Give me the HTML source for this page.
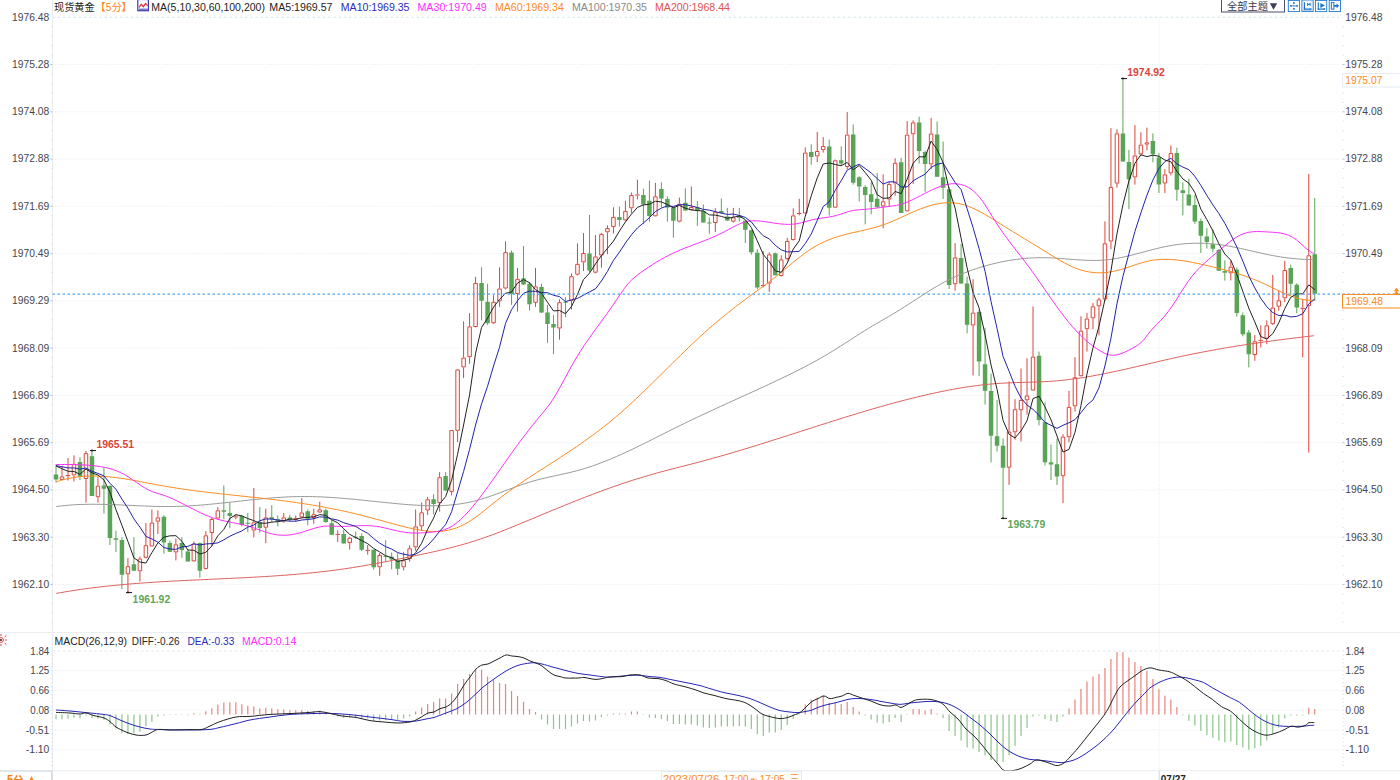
<!DOCTYPE html>
<html><head><meta charset="utf-8"><title>chart</title>
<style>
html,body{margin:0;padding:0;background:#fff;}
body{width:1400px;height:780px;overflow:hidden;font-family:"Liberation Sans",sans-serif;}
svg{display:block;font-family:"Liberation Sans",sans-serif;}
</style></head><body>
<svg width="1400" height="780" viewBox="0 0 1400 780">
<rect width="1400" height="780" fill="#fff"/>
<path d="M52.5 0V780" stroke="#e6ebf1" stroke-width="1" fill="none"/>
<path d="M52.5 17.3H1342.5" stroke="#d8e6ee" stroke-width="1" stroke-dasharray="2.6 2.6" fill="none"/>
<path d="M52.5 64.56H1342.5M52.5 111.82H1342.5M52.5 159.08H1342.5M52.5 206.34H1342.5M52.5 253.6H1342.5M52.5 300.86H1342.5M52.5 348.12H1342.5M52.5 395.38H1342.5M52.5 442.64H1342.5M52.5 489.9H1342.5M52.5 537.16H1342.5M52.5 584.42H1342.5" stroke="#e5eaf0" stroke-width="1" stroke-dasharray="1 1.6" fill="none"/>
<path d="M51.0 26.75h1.5M1342.5 26.75h1.5M51.0 36.2h1.5M1342.5 36.2h1.5M51.0 45.66h1.5M1342.5 45.66h1.5M51.0 55.11h1.5M1342.5 55.11h1.5M51.0 74.01h1.5M1342.5 74.01h1.5M51.0 83.46h1.5M1342.5 83.46h1.5M51.0 92.92h1.5M1342.5 92.92h1.5M51.0 102.37h1.5M1342.5 102.37h1.5M51.0 121.27h1.5M1342.5 121.27h1.5M51.0 130.72h1.5M1342.5 130.72h1.5M51.0 140.18h1.5M1342.5 140.18h1.5M51.0 149.63h1.5M1342.5 149.63h1.5M51.0 168.53h1.5M1342.5 168.53h1.5M51.0 177.98h1.5M1342.5 177.98h1.5M51.0 187.44h1.5M1342.5 187.44h1.5M51.0 196.89h1.5M1342.5 196.89h1.5M51.0 215.79h1.5M1342.5 215.79h1.5M51.0 225.24h1.5M1342.5 225.24h1.5M51.0 234.7h1.5M1342.5 234.7h1.5M51.0 244.15h1.5M1342.5 244.15h1.5M51.0 263.05h1.5M1342.5 263.05h1.5M51.0 272.5h1.5M1342.5 272.5h1.5M51.0 281.96h1.5M1342.5 281.96h1.5M51.0 291.41h1.5M1342.5 291.41h1.5M51.0 310.31h1.5M1342.5 310.31h1.5M51.0 319.76h1.5M1342.5 319.76h1.5M51.0 329.22h1.5M1342.5 329.22h1.5M51.0 338.67h1.5M1342.5 338.67h1.5M51.0 357.57h1.5M1342.5 357.57h1.5M51.0 367.02h1.5M1342.5 367.02h1.5M51.0 376.48h1.5M1342.5 376.48h1.5M51.0 385.93h1.5M1342.5 385.93h1.5M51.0 404.83h1.5M1342.5 404.83h1.5M51.0 414.28h1.5M1342.5 414.28h1.5M51.0 423.74h1.5M1342.5 423.74h1.5M51.0 433.19h1.5M1342.5 433.19h1.5M51.0 452.09h1.5M1342.5 452.09h1.5M51.0 461.54h1.5M1342.5 461.54h1.5M51.0 471h1.5M1342.5 471h1.5M51.0 480.45h1.5M1342.5 480.45h1.5M51.0 499.35h1.5M1342.5 499.35h1.5M51.0 508.8h1.5M1342.5 508.8h1.5M51.0 518.26h1.5M1342.5 518.26h1.5M51.0 527.71h1.5M1342.5 527.71h1.5M51.0 546.61h1.5M1342.5 546.61h1.5M51.0 556.06h1.5M1342.5 556.06h1.5M51.0 565.52h1.5M1342.5 565.52h1.5M51.0 574.97h1.5M1342.5 574.97h1.5M51.0 593.87h1.5M1342.5 593.87h1.5M51.0 603.32h1.5M1342.5 603.32h1.5M51.0 612.78h1.5M1342.5 612.78h1.5M51.0 622.23h1.5M1342.5 622.23h1.5" stroke="#dde3e9" stroke-width="1" fill="none"/>
<path d="M50.5 64.56h2M1342.5 64.56h2M50.5 111.82h2M1342.5 111.82h2M50.5 159.08h2M1342.5 159.08h2M50.5 206.34h2M1342.5 206.34h2M50.5 253.6h2M1342.5 253.6h2M50.5 300.86h2M1342.5 300.86h2M50.5 348.12h2M1342.5 348.12h2M50.5 395.38h2M1342.5 395.38h2M50.5 442.64h2M1342.5 442.64h2M50.5 489.9h2M1342.5 489.9h2M50.5 537.16h2M1342.5 537.16h2M50.5 584.42h2M1342.5 584.42h2" stroke="#b4bcc4" stroke-width="1" fill="none"/>
<text x="49.3" y="20.7" font-size="10.2" fill="#454550" text-anchor="end" textLength="37.2" lengthAdjust="spacingAndGlyphs">1976.48</text>
<text x="1345.2" y="20.7" font-size="10.2" fill="#454550" textLength="37.2" lengthAdjust="spacingAndGlyphs">1976.48</text>
<text x="49.3" y="67.96" font-size="10.2" fill="#454550" text-anchor="end" textLength="37.2" lengthAdjust="spacingAndGlyphs">1975.28</text>
<text x="1345.2" y="67.96" font-size="10.2" fill="#454550" textLength="37.2" lengthAdjust="spacingAndGlyphs">1975.28</text>
<text x="49.3" y="115.22" font-size="10.2" fill="#454550" text-anchor="end" textLength="37.2" lengthAdjust="spacingAndGlyphs">1974.08</text>
<text x="1345.2" y="115.22" font-size="10.2" fill="#454550" textLength="37.2" lengthAdjust="spacingAndGlyphs">1974.08</text>
<text x="49.3" y="162.48" font-size="10.2" fill="#454550" text-anchor="end" textLength="37.2" lengthAdjust="spacingAndGlyphs">1972.88</text>
<text x="1345.2" y="162.48" font-size="10.2" fill="#454550" textLength="37.2" lengthAdjust="spacingAndGlyphs">1972.88</text>
<text x="49.3" y="209.74" font-size="10.2" fill="#454550" text-anchor="end" textLength="37.2" lengthAdjust="spacingAndGlyphs">1971.69</text>
<text x="1345.2" y="209.74" font-size="10.2" fill="#454550" textLength="37.2" lengthAdjust="spacingAndGlyphs">1971.69</text>
<text x="49.3" y="257" font-size="10.2" fill="#454550" text-anchor="end" textLength="37.2" lengthAdjust="spacingAndGlyphs">1970.49</text>
<text x="1345.2" y="257" font-size="10.2" fill="#454550" textLength="37.2" lengthAdjust="spacingAndGlyphs">1970.49</text>
<text x="49.3" y="304.26" font-size="10.2" fill="#454550" text-anchor="end" textLength="37.2" lengthAdjust="spacingAndGlyphs">1969.29</text>
<text x="1345.2" y="304.26" font-size="10.2" fill="#454550" textLength="37.2" lengthAdjust="spacingAndGlyphs">1969.29</text>
<text x="49.3" y="351.52" font-size="10.2" fill="#454550" text-anchor="end" textLength="37.2" lengthAdjust="spacingAndGlyphs">1968.09</text>
<text x="1345.2" y="351.52" font-size="10.2" fill="#454550" textLength="37.2" lengthAdjust="spacingAndGlyphs">1968.09</text>
<text x="49.3" y="398.78" font-size="10.2" fill="#454550" text-anchor="end" textLength="37.2" lengthAdjust="spacingAndGlyphs">1966.89</text>
<text x="1345.2" y="398.78" font-size="10.2" fill="#454550" textLength="37.2" lengthAdjust="spacingAndGlyphs">1966.89</text>
<text x="49.3" y="446.04" font-size="10.2" fill="#454550" text-anchor="end" textLength="37.2" lengthAdjust="spacingAndGlyphs">1965.69</text>
<text x="1345.2" y="446.04" font-size="10.2" fill="#454550" textLength="37.2" lengthAdjust="spacingAndGlyphs">1965.69</text>
<text x="49.3" y="493.3" font-size="10.2" fill="#454550" text-anchor="end" textLength="37.2" lengthAdjust="spacingAndGlyphs">1964.50</text>
<text x="1345.2" y="493.3" font-size="10.2" fill="#454550" textLength="37.2" lengthAdjust="spacingAndGlyphs">1964.50</text>
<text x="49.3" y="540.56" font-size="10.2" fill="#454550" text-anchor="end" textLength="37.2" lengthAdjust="spacingAndGlyphs">1963.30</text>
<text x="1345.2" y="540.56" font-size="10.2" fill="#454550" textLength="37.2" lengthAdjust="spacingAndGlyphs">1963.30</text>
<text x="49.3" y="587.82" font-size="10.2" fill="#454550" text-anchor="end" textLength="37.2" lengthAdjust="spacingAndGlyphs">1962.10</text>
<text x="1345.2" y="587.82" font-size="10.2" fill="#454550" textLength="37.2" lengthAdjust="spacingAndGlyphs">1962.10</text>
<path d="M0 632.5H1400M0 770.7H1400" stroke="#e9eef3" stroke-width="1" fill="none"/>
<path d="M52.5 670.6H1342.5M52.5 690.4H1342.5M52.5 710.1H1342.5M52.5 730H1342.5M52.5 749.7H1342.5" stroke="#e5eaf0" stroke-width="1" stroke-dasharray="1 1.6" fill="none"/>
<path d="M52.5 651H1342.5" stroke="#dce8ef" stroke-width="1" stroke-dasharray="2.6 2.6" fill="none"/>
<text x="49.3" y="654.7" font-size="10.2" fill="#454550" text-anchor="end" textLength="19" lengthAdjust="spacingAndGlyphs">1.84</text>
<text x="1345.5" y="654.7" font-size="10.2" fill="#454550" textLength="19" lengthAdjust="spacingAndGlyphs">1.84</text>
<text x="49.3" y="674.3" font-size="10.2" fill="#454550" text-anchor="end" textLength="19" lengthAdjust="spacingAndGlyphs">1.25</text>
<text x="1345.5" y="674.3" font-size="10.2" fill="#454550" textLength="19" lengthAdjust="spacingAndGlyphs">1.25</text>
<text x="49.3" y="694.1" font-size="10.2" fill="#454550" text-anchor="end" textLength="19" lengthAdjust="spacingAndGlyphs">0.66</text>
<text x="1345.5" y="694.1" font-size="10.2" fill="#454550" textLength="19" lengthAdjust="spacingAndGlyphs">0.66</text>
<text x="49.3" y="713.8" font-size="10.2" fill="#454550" text-anchor="end" textLength="19" lengthAdjust="spacingAndGlyphs">0.08</text>
<text x="1345.5" y="713.8" font-size="10.2" fill="#454550" textLength="19" lengthAdjust="spacingAndGlyphs">0.08</text>
<text x="49.3" y="733.7" font-size="10.2" fill="#454550" text-anchor="end" textLength="23.6" lengthAdjust="spacingAndGlyphs">-0.51</text>
<text x="1345.5" y="733.7" font-size="10.2" fill="#454550" textLength="23.6" lengthAdjust="spacingAndGlyphs">-0.51</text>
<text x="49.3" y="753.4" font-size="10.2" fill="#454550" text-anchor="end" textLength="23.6" lengthAdjust="spacingAndGlyphs">-1.10</text>
<text x="1345.5" y="753.4" font-size="10.2" fill="#454550" textLength="23.6" lengthAdjust="spacingAndGlyphs">-1.10</text>
<path d="M51.0 651h1.5M1342.5 651h1.5M51.0 654.95h1.5M1342.5 654.95h1.5M51.0 658.9h1.5M1342.5 658.9h1.5M51.0 662.84h1.5M1342.5 662.84h1.5M51.0 666.79h1.5M1342.5 666.79h1.5M51.0 670.74h1.5M1342.5 670.74h1.5M51.0 674.69h1.5M1342.5 674.69h1.5M51.0 678.64h1.5M1342.5 678.64h1.5M51.0 682.58h1.5M1342.5 682.58h1.5M51.0 686.53h1.5M1342.5 686.53h1.5M51.0 690.48h1.5M1342.5 690.48h1.5M51.0 694.43h1.5M1342.5 694.43h1.5M51.0 698.38h1.5M1342.5 698.38h1.5M51.0 702.32h1.5M1342.5 702.32h1.5M51.0 706.27h1.5M1342.5 706.27h1.5M51.0 710.22h1.5M1342.5 710.22h1.5M51.0 714.17h1.5M1342.5 714.17h1.5M51.0 718.12h1.5M1342.5 718.12h1.5M51.0 722.06h1.5M1342.5 722.06h1.5M51.0 726.01h1.5M1342.5 726.01h1.5M51.0 729.96h1.5M1342.5 729.96h1.5M51.0 733.91h1.5M1342.5 733.91h1.5M51.0 737.86h1.5M1342.5 737.86h1.5M51.0 741.8h1.5M1342.5 741.8h1.5M51.0 745.75h1.5M1342.5 745.75h1.5M51.0 749.7h1.5M1342.5 749.7h1.5M51.0 753.65h1.5M1342.5 753.65h1.5M51.0 757.6h1.5M1342.5 757.6h1.5M51.0 761.54h1.5M1342.5 761.54h1.5M51.0 765.49h1.5M1342.5 765.49h1.5" stroke="#dde3e9" stroke-width="1" fill="none"/>
<path d="M1159.2 17.3V771" stroke="#e5eaf0" stroke-width="1" stroke-dasharray="1 1.6" fill="none"/>
<path d="M1159.2 771V780" stroke="#cfd6dd" stroke-width="1" fill="none"/>
<path d="M61.99 466V476.4M67.99 458V475.1M67.99 476.1V480.5M65.74 475.6h4.5M73.98 455.4V463.8M73.98 475.4V481.5M85.97 451V453.1M85.97 479V502.6M97.96 477V485.6M97.96 497.2V502.6M127.93 558.1V566.2M127.93 574.3V592.8M139.92 556.5V558.5M139.92 571.3V581.6M145.91 523.1V545.2M145.91 557.8V558.5M151.9 509.6V522.5M157.9 510.3V517.4M157.9 521.6V534M175.88 538.6V544.3M175.88 552.4V560.4M193.86 541.4V543.7M193.86 561.4V561.7M205.85 531.1V535.3M205.85 569.1V569.4M211.84 518V519M211.84 533V546M217.84 507.1V510.3M217.84 518.5V519.3M235.82 514.8V516.4M235.82 517.4V519.3M233.57 516.9h4.5M253.8 487.9V522.3M253.8 530.5V537.3M265.79 508.7V517.4M265.79 527.7V543.1M283.77 512.9V517.4M283.77 521.5V522.8M295.76 515.5V518.4M295.76 520V521.3M301.75 498.1V512.5M301.75 517.4V518.1M313.74 508.7V514.2M313.74 518.1V523.8M319.74 501.7V509.4M319.74 512.5V512.9M337.72 530.3V533.9M337.72 534.9V541.8M335.47 534.4h4.5M349.71 536.7V537.7M349.71 543.1V549.6M367.69 545V549.9M367.69 550.9V554.7M365.44 550.4h4.5M379.68 553V555M379.68 567.3V575.8M403.65 551.8V560.3M403.65 567.3V570.4M409.65 545.5V548.3M409.65 559.1V561.7M415.64 509.5V526.4M415.64 547.3V550.7M421.63 502.4V512.3M421.63 526.4V530.9M427.63 496.8V499.3M427.63 510.5V514.9M439.62 472.1V477.2M439.62 503.1V511.6M451.6 430V430.1M451.6 491.9V495.4M457.6 369V369.5M457.6 430.8V442M463.59 321.3V357.6M463.59 367.4V378.1M469.59 313.1V326.4M469.59 357.2V363.7M475.58 276.8V282.9M475.58 327V327.4M493.56 295.2V301.8M493.56 323.3V324M499.56 267.3V288.5M499.56 301.4V306.9M505.55 241.3V252.2M505.55 288.5V289.5M517.54 267.9V278.8M517.54 294V311.6M535.52 267.9V286.4M535.52 302.8V306.9M559.5 299.3V302.2M559.5 328.5V339.7M571.48 273.5V276.2M571.48 300.8V309.6M577.48 243.3V263.8M577.48 274.7V275.5M583.47 233.1V253M583.47 262.4V271M595.46 234.9V256.4M595.46 272.7V273.5M601.45 233V233.9M601.45 255.5V267.7M607.45 225.3V228.1M607.45 232.3V254.2M613.44 207.3V216.9M613.44 227.2V233.6M625.43 200.8V210.9M625.43 220.4V220.8M631.42 192.5V195.1M631.42 208.3V213.1M637.42 179.6V194.4M637.42 195.6V199.3M635.17 195h4.5M655.4 182.9V196.3M655.4 216.3V216.5M679.38 197.6V203.7M679.38 221.7V222.4M691.36 186.5V207M691.36 210.1V210.5M715.34 208.3V211.8M715.34 223V232M733.32 207.9V217.3M733.32 221.7V222.7M763.29 251.2V285M763.29 286V287.4M761.04 285.5h4.5M769.29 252.4V254.4M769.29 283.5V291.9M781.27 255.3V259.4M781.27 276.1V276.5M787.27 237.9V240.9M787.27 259.1V260.4M793.26 208.4V215.4M793.26 240.1V240.5M799.26 198.8V213M799.26 214V215.4M797.01 213.5h4.5M805.25 147.4V152.6M817.24 132V151M817.24 156.4V162.2M823.23 137.1V146.1M823.23 150.2V152.6M835.22 159.6V160.3M847.21 112.1V134.6M847.21 167V169.3M883.17 174.4V201.3M883.17 206.4V228.3M889.17 182V184M889.17 199.5V207M895.16 158.3V162.8M895.16 183.4V195.6M907.15 121.1V134.6M907.15 211.3V211.5M913.14 120.4V122.4M913.14 134.3V184M931.12 117.9V133.5M931.12 164.4V169.3M955.1 243.2V257.4M955.1 284.2V290.7M973.08 279.2V312.6M973.08 325.5V375.4M1009.05 381.5V431.5M1009.05 467.7V484.9M1015.04 399.2V409.2M1015.04 432.3V439.7M1021.03 368.5V400M1021.03 410.3V441.5M1027.03 358.2V395.4M1027.03 400.3V414.6M1033.02 306.5V356.6M1033.02 390.5V391M1062.99 434.2V436.6M1062.99 476.2V503.1M1068.99 390.8V406.9M1068.99 437.2V442.3M1074.98 357.2V377.2M1074.98 406.3V411.5M1080.97 316.2V330.6M1080.97 376.2V376.5M1086.97 313.1V318.5M1086.97 329.2V351.5M1092.96 303.1V306.3M1092.96 318.3V329.3M1098.96 297.6V299.4M1098.96 306.3V335.4M1104.95 221.3V243.3M1104.95 299.4V301M1110.94 128.2V186.9M1110.94 241.5V249.2M1116.94 129.2V133.4M1116.94 183.6V187.7M1134.92 125.1V155.4M1134.92 177.4V184.6M1140.91 132.3V144.6M1140.91 154.3V155.4M1146.91 127.7V142.3M1146.91 144.6V150.3M1164.89 169.2V174.4M1164.89 183.5V193.1M1170.88 145.4V153.1M1170.88 173.4V175.4M1230.82 260.8V266.7M1230.82 273.3V280.4M1254.8 335V341.3M1254.8 355V360.8M1260.79 325.3V339.85M1260.79 340.85V347.5M1258.54 340.35h4.5M1266.79 320.3V325.3M1266.79 338.7V344.2M1272.78 275V307.5M1272.78 324.2V325M1278.78 290.8V300.3M1278.78 306.7V310.8M1284.77 260.8V270M1284.77 298.3V302M1302.75 299.2V307.85M1302.75 308.85V357.4M1300.5 308.35h4.5M1308.75 174V255.3M1308.75 306.3V452.6" stroke="#d8463c" stroke-width="1" fill="none"/>
<path d="M60.24 476.9h3.5v2.6h-3.5zM72.23 464.3h3.5v10.6h-3.5zM84.22 453.6h3.5v24.9h-3.5zM96.21 486.1h3.5v10.6h-3.5zM126.18 566.7h3.5v7.1h-3.5zM138.17 559h3.5v11.8h-3.5zM144.16 545.7h3.5v11.6h-3.5zM150.15 523h3.5v23h-3.5zM156.15 517.9h3.5v3.2h-3.5zM174.13 544.8h3.5v7.1h-3.5zM192.11 544.2h3.5v16.7h-3.5zM204.1 535.8h3.5v32.8h-3.5zM210.09 519.5h3.5v13h-3.5zM216.09 510.8h3.5v7.2h-3.5zM252.05 522.8h3.5v7.2h-3.5zM264.04 517.9h3.5v9.3h-3.5zM282.02 517.9h3.5v3.1h-3.5zM294.01 518.9h3.5v0.6h-3.5zM300 513h3.5v3.9h-3.5zM311.99 514.7h3.5v2.9h-3.5zM317.99 509.9h3.5v2.1h-3.5zM347.96 538.2h3.5v4.4h-3.5zM377.93 555.5h3.5v11.3h-3.5zM401.9 560.8h3.5v6h-3.5zM407.9 548.8h3.5v9.8h-3.5zM413.89 526.9h3.5v19.9h-3.5zM419.88 512.8h3.5v13.1h-3.5zM425.88 499.8h3.5v10.2h-3.5zM437.87 477.7h3.5v24.9h-3.5zM449.85 430.6h3.5v60.8h-3.5zM455.85 370h3.5v60.3h-3.5zM461.84 358.1h3.5v8.8h-3.5zM467.84 326.9h3.5v29.8h-3.5zM473.83 283.4h3.5v43.1h-3.5zM491.81 302.3h3.5v20.5h-3.5zM497.81 289h3.5v11.9h-3.5zM503.8 252.7h3.5v35.3h-3.5zM515.79 279.3h3.5v14.2h-3.5zM533.77 286.9h3.5v15.4h-3.5zM557.75 302.7h3.5v25.3h-3.5zM569.73 276.7h3.5v23.6h-3.5zM575.73 264.3h3.5v9.9h-3.5zM581.72 253.5h3.5v8.4h-3.5zM593.71 256.9h3.5v15.3h-3.5zM599.7 234.4h3.5v20.6h-3.5zM605.7 228.6h3.5v3.2h-3.5zM611.69 217.4h3.5v9.3h-3.5zM623.68 211.4h3.5v8.5h-3.5zM629.67 195.6h3.5v12.2h-3.5zM653.65 196.8h3.5v19h-3.5zM677.63 204.2h3.5v17h-3.5zM689.61 207.5h3.5v2.1h-3.5zM713.59 212.3h3.5v10.2h-3.5zM731.57 217.8h3.5v3.4h-3.5zM767.54 254.9h3.5v28.1h-3.5zM779.52 259.9h3.5v15.7h-3.5zM785.52 241.4h3.5v17.2h-3.5zM791.51 215.9h3.5v23.7h-3.5zM803.5 153.1h3.5v59.9h-3.5zM815.49 151.5h3.5v4.4h-3.5zM821.48 146.6h3.5v3.1h-3.5zM833.47 160.8h3.5v46.4h-3.5zM845.46 135.1h3.5v31.4h-3.5zM881.42 201.8h3.5v4.1h-3.5zM887.42 184.5h3.5v14.5h-3.5zM893.41 163.3h3.5v19.6h-3.5zM905.4 135.1h3.5v75.7h-3.5zM911.39 122.9h3.5v10.9h-3.5zM929.37 134h3.5v29.9h-3.5zM953.35 257.9h3.5v25.8h-3.5zM971.33 313.1h3.5v11.9h-3.5zM1007.3 432h3.5v35.2h-3.5zM1013.29 409.7h3.5v22.1h-3.5zM1019.28 400.5h3.5v9.3h-3.5zM1025.28 395.9h3.5v3.9h-3.5zM1031.27 357.1h3.5v32.9h-3.5zM1061.24 437.1h3.5v38.6h-3.5zM1067.24 407.4h3.5v29.3h-3.5zM1073.23 377.7h3.5v28.1h-3.5zM1079.22 331.1h3.5v44.6h-3.5zM1085.22 319h3.5v9.7h-3.5zM1091.21 306.8h3.5v11h-3.5zM1097.21 299.9h3.5v5.9h-3.5zM1103.2 243.8h3.5v55.1h-3.5zM1109.19 187.4h3.5v53.6h-3.5zM1115.19 133.9h3.5v49.2h-3.5zM1133.17 155.9h3.5v21h-3.5zM1139.16 145.1h3.5v8.7h-3.5zM1145.16 142.8h3.5v1.3h-3.5zM1163.14 174.9h3.5v8.1h-3.5zM1169.13 153.6h3.5v19.3h-3.5zM1229.07 267.2h3.5v5.6h-3.5zM1253.05 341.8h3.5v12.7h-3.5zM1265.04 325.8h3.5v12.4h-3.5zM1271.03 308h3.5v15.7h-3.5zM1277.03 300.8h3.5v5.4h-3.5zM1283.02 270.5h3.5v27.3h-3.5zM1307 255.8h3.5v50h-3.5z" stroke="#d8463c" stroke-width="1" fill="#fff"/>
<path d="M56 464.6V482.6M79.98 457.2V480M91.96 450.3V496M103.95 467.5V513.6M109.95 485V545M115.94 530.8V552M121.93 537.3V589.3M133.92 537.3V570.7M163.89 515.2V553.7M169.89 540.5V552M181.87 537.3V557.8M187.87 550V561.7M199.86 542.4V577.8M223.83 485.5V519.3M229.83 502.6V528.3M241.81 514.8V526.4M247.81 512.9V532.2M259.8 507.1V532.8M271.78 505.2V521.9M277.78 515.5V526.4M289.77 514.8V521.9M307.75 509.4V525.4M325.73 508.7V522.8M331.72 520V534.8M343.71 529.6V543.4M355.7 531.6V539M361.69 533.5V551M373.68 549.6V569.6M385.67 540.2V561.2M391.66 552.5V569.4M397.66 553.2V575M433.62 494.3V514.4M445.61 472.1V491.2M481.57 267.3V320.3M487.57 283.7V324.8M511.54 250.5V304.9M523.53 246V285M529.53 282V310.4M541.51 283.7V313M547.51 304.9V342.8M553.5 315.1V354.1M565.49 297.3V317.2M589.47 215V272M619.44 206.6V226.6M643.41 188.6V224M649.41 180.5V221.7M661.39 182.2V207.3M667.39 196.3V221.7M673.38 206.6V237.7M685.37 188.3V210.9M697.36 201.1V225.9M703.35 204.4V222.7M709.35 217.6V233.6M721.33 198.5V213.7M727.33 207.9V220.8M739.32 207.9V221.7M745.31 220.1V243M751.3 229.8V254.7M757.3 249.3V289.3M775.28 252.5V275.4M811.24 144.2V164.8M829.23 139.7V215.4M841.21 146.4V166.1M853.2 124.3V184.7M859.2 176.3V201.4M865.19 185.3V224.4M871.18 182.1V214.4M877.18 173.1V208.4M901.15 157.7V213M919.14 116.6V163.5M925.13 150.6V191.8M937.12 121.5V177M943.11 141.6V199M949.11 187V289M961.09 244V284M967.09 276.7V333.3M979.08 310V376.2M985.07 327.7V404.6M991.06 373.8V462.3M997.06 400V451.5M1003.05 438.5V518.5M1039.02 351.5V425.4M1045.01 402.3V465.4M1051 444.6V480M1057 438.5V484.9M1122.93 78.5V161.8M1128.93 150V209.2M1152.9 133.4V162.3M1158.9 153.1V193.1M1176.88 147.7V200.8M1182.87 182.3V215.4M1188.87 178.5V205.7M1194.86 195V223.8M1200.85 218.5V253.1M1206.85 228.2V248.5M1212.84 229.2V252.3M1218.84 249V271M1224.83 260.3V280.6M1236.82 267.5V316.7M1242.81 312.5V336.3M1248.81 330V367.5M1290.76 264.7V295M1296.76 283.3V313.3M1314.74 198V300.8" stroke="#5aa457" stroke-width="1" fill="none"/>
<path d="M53.75 474.4h4.5v5.1h-4.5zM77.73 462h4.5v14.4h-4.5zM89.71 456.2h4.5v39.8h-4.5zM101.7 485.6h4.5v3.1h-4.5zM107.7 486h4.5v51.9h-4.5zM113.69 538.2h4.5v1.6h-4.5zM119.68 540.1h4.5v34.7h-4.5zM131.67 564.3h4.5v6.4h-4.5zM161.64 516.7h4.5v25.7h-4.5zM167.64 543h4.5v8.7h-4.5zM179.62 543h4.5v7.1h-4.5zM185.62 551.4h4.5v10h-4.5zM197.61 543h4.5v27.7h-4.5zM221.58 510.3h4.5v1.4h-4.5zM227.58 512.9h4.5v3h-4.5zM239.56 515.9h4.5v9.2h-4.5zM245.56 522.8h4.5v1h-4.5zM257.55 522.3h4.5v5.7h-4.5zM269.53 517.2h4.5v2.1h-4.5zM275.53 519.3h4.5v2.2h-4.5zM287.52 517.4h4.5v2.3h-4.5zM305.5 511.2h4.5v7.5h-4.5zM323.48 510.3h4.5v11.6h-4.5zM329.47 523.2h4.5v11.6h-4.5zM341.46 534.1h4.5v9.3h-4.5zM353.45 536.8h4.5v1h-4.5zM359.44 536.1h4.5v13.7h-4.5zM371.43 549.8h4.5v17.5h-4.5zM383.42 555.8h4.5v1h-4.5zM389.41 556.7h4.5v2.9h-4.5zM395.41 560.3h4.5v8.4h-4.5zM431.37 499.3h4.5v4.6h-4.5zM443.36 475.9h4.5v14.6h-4.5zM479.32 282.9h4.5v17.9h-4.5zM485.32 301.8h4.5v21.5h-4.5zM509.29 252.6h4.5v41.4h-4.5zM521.28 278.2h4.5v6.2h-4.5zM527.28 283.7h4.5v20.6h-4.5zM539.26 287h4.5v25.5h-4.5zM545.26 312.5h4.5v11.4h-4.5zM551.25 323.9h4.5v3.5h-4.5zM563.24 301.8h4.5v1h-4.5zM587.22 253.6h4.5v17h-4.5zM617.19 216.9h4.5v3h-4.5zM641.16 195.1h4.5v9.3h-4.5zM647.16 200.8h4.5v15.2h-4.5zM659.14 189h4.5v9.5h-4.5zM665.14 198.9h4.5v8.6h-4.5zM671.13 207.5h4.5v13.3h-4.5zM683.12 202.8h4.5v7.7h-4.5zM695.11 207.3h4.5v3.8h-4.5zM701.1 211.1h4.5v11.3h-4.5zM707.1 222.6h4.5v1h-4.5zM719.08 210.9h4.5v2.2h-4.5zM725.08 216.5h4.5v3.9h-4.5zM737.07 215.6h4.5v2.2h-4.5zM743.06 220.8h4.5v9h-4.5zM749.05 230.2h4.5v22h-4.5zM755.05 252.8h4.5v34.6h-4.5zM773.03 253.3h4.5v21.9h-4.5zM808.99 151.9h4.5v5.2h-4.5zM826.98 146.4h4.5v61.3h-4.5zM838.96 160.3h4.5v3.2h-4.5zM850.95 134.6h4.5v48.2h-4.5zM856.95 177.2h4.5v9.4h-4.5zM862.94 187h4.5v8h-4.5zM868.93 194.3h4.5v7.7h-4.5zM874.93 198.8h4.5v8.3h-4.5zM898.9 162.2h4.5v50.7h-4.5zM916.89 122.4h4.5v28.6h-4.5zM922.88 151.9h4.5v12h-4.5zM934.87 134.6h4.5v42.1h-4.5zM940.86 177.2h4.5v10.6h-4.5zM946.86 189.2h4.5v95.8h-4.5zM958.84 258h4.5v25.5h-4.5zM964.84 283.5h4.5v41.3h-4.5zM976.83 312h4.5v49.5h-4.5zM982.82 364.3h4.5v26.5h-4.5zM988.81 391h4.5v44.7h-4.5zM994.81 436.2h4.5v9.6h-4.5zM1000.8 445.8h4.5v21.9h-4.5zM1036.77 355.7h4.5v64.3h-4.5zM1042.76 422.3h4.5v40h-4.5zM1048.75 462.3h4.5v2.3h-4.5zM1054.75 464.3h4.5v12.3h-4.5zM1120.68 133.4h4.5v28.1h-4.5zM1126.68 162h4.5v17.3h-4.5zM1150.65 141.1h4.5v13.2h-4.5zM1156.65 157.4h4.5v27.2h-4.5zM1174.63 153.1h4.5v36.6h-4.5zM1180.62 190.3h4.5v2.8h-4.5zM1186.62 194.6h4.5v10.8h-4.5zM1192.61 205.1h4.5v16.4h-4.5zM1198.6 221.1h4.5v14.7h-4.5zM1204.6 236.5h4.5v5.5h-4.5zM1210.59 244.2h4.5v4.6h-4.5zM1216.59 250h4.5v20.8h-4.5zM1222.58 271h4.5v1.7h-4.5zM1234.57 269.8h4.5v43.2h-4.5zM1240.56 315.3h4.5v18.9h-4.5zM1246.56 332.5h4.5v21.7h-4.5zM1288.51 268h4.5v15.7h-4.5zM1294.51 284.7h4.5v22.8h-4.5zM1312.49 254.2h4.5v39.5h-4.5z" fill="#5aa457"/>
<path d="M56.25 593.42C56.92 593.3 58.92 592.94 60.25 592.7C61.58 592.47 62.92 592.24 64.25 592.01C65.58 591.79 66.92 591.57 68.25 591.35C69.58 591.13 70.92 590.92 72.25 590.71C73.58 590.5 74.92 590.3 76.25 590.1C77.58 589.9 78.92 589.7 80.25 589.51C81.58 589.32 82.92 589.13 84.25 588.95C85.58 588.76 86.92 588.58 88.25 588.41C89.58 588.23 90.92 588.06 92.25 587.89C93.58 587.72 94.92 587.55 96.25 587.39C97.58 587.23 98.92 587.07 100.25 586.92C101.58 586.76 102.92 586.61 104.25 586.46C105.58 586.32 106.92 586.17 108.25 586.03C109.58 585.89 110.92 585.75 112.25 585.61C113.58 585.48 114.92 585.35 116.25 585.22C117.58 585.09 118.92 584.96 120.25 584.84C121.58 584.71 122.92 584.59 124.25 584.47C125.58 584.35 126.92 584.24 128.25 584.13C129.58 584.01 130.92 583.9 132.25 583.79C133.58 583.69 134.92 583.58 136.25 583.48C137.58 583.37 138.92 583.27 140.25 583.17C141.58 583.07 142.92 582.98 144.25 582.88C145.58 582.79 146.92 582.69 148.25 582.6C149.58 582.51 150.92 582.42 152.25 582.34C153.58 582.25 154.92 582.16 156.25 582.08C157.58 582 158.92 581.92 160.25 581.84C161.58 581.76 162.92 581.68 164.25 581.6C165.58 581.52 166.92 581.45 168.25 581.37C169.58 581.3 170.92 581.22 172.25 581.15C173.58 581.08 174.92 581.01 176.25 580.94C177.58 580.87 178.92 580.8 180.25 580.73C181.58 580.67 182.92 580.6 184.25 580.53C185.58 580.47 186.92 580.4 188.25 580.34C189.58 580.27 190.92 580.21 192.25 580.15C193.58 580.08 194.92 580.02 196.25 579.96C197.58 579.9 198.92 579.84 200.25 579.77C201.58 579.71 202.92 579.65 204.25 579.59C205.58 579.53 206.92 579.47 208.25 579.41C209.58 579.35 210.92 579.29 212.25 579.23C213.58 579.17 214.92 579.11 216.25 579.05C217.58 578.99 218.92 578.93 220.25 578.87C221.58 578.81 222.92 578.74 224.25 578.68C225.58 578.62 226.92 578.56 228.25 578.5C229.58 578.43 230.92 578.37 232.25 578.31C233.58 578.24 234.92 578.18 236.25 578.12C237.58 578.05 238.92 577.99 240.25 577.92C241.58 577.85 242.92 577.78 244.25 577.72C245.58 577.65 246.92 577.58 248.25 577.51C249.58 577.44 250.92 577.37 252.25 577.29C253.58 577.22 254.92 577.15 256.25 577.07C257.58 576.99 258.92 576.92 260.25 576.84C261.58 576.76 262.92 576.68 264.25 576.6C265.58 576.52 266.92 576.44 268.25 576.35C269.58 576.27 270.92 576.18 272.25 576.09C273.58 576 274.92 575.91 276.25 575.82C277.58 575.73 278.92 575.63 280.25 575.54C281.58 575.44 282.92 575.34 284.25 575.24C285.58 575.14 286.92 575.04 288.25 574.94C289.58 574.83 290.92 574.72 292.25 574.61C293.58 574.5 294.92 574.39 296.25 574.28C297.58 574.16 298.92 574.05 300.25 573.93C301.58 573.81 302.92 573.68 304.25 573.56C305.58 573.43 306.92 573.31 308.25 573.18C309.58 573.04 310.92 572.91 312.25 572.77C313.58 572.64 314.92 572.5 316.25 572.35C317.58 572.21 318.92 572.07 320.25 571.92C321.58 571.77 322.92 571.61 324.25 571.46C325.58 571.3 326.92 571.14 328.25 570.98C329.58 570.82 330.92 570.65 332.25 570.48C333.58 570.31 334.92 570.14 336.25 569.96C337.58 569.78 338.92 569.6 340.25 569.42C341.58 569.23 342.92 569.05 344.25 568.85C345.58 568.66 346.92 568.46 348.25 568.26C349.58 568.06 350.92 567.86 352.25 567.65C353.58 567.44 354.92 567.23 356.25 567.01C357.58 566.8 358.92 566.58 360.25 566.35C361.58 566.13 362.92 565.9 364.25 565.67C365.58 565.44 366.92 565.21 368.25 564.97C369.58 564.73 370.92 564.49 372.25 564.25C373.58 564.01 374.92 563.76 376.25 563.51C377.58 563.26 378.92 563.01 380.25 562.76C381.58 562.51 382.92 562.25 384.25 561.99C385.58 561.73 386.92 561.47 388.25 561.21C389.58 560.95 390.92 560.69 392.25 560.42C393.58 560.16 394.92 559.89 396.25 559.62C397.58 559.35 398.92 559.08 400.25 558.81C401.58 558.54 402.92 558.27 404.25 557.99C405.58 557.72 406.92 557.45 408.25 557.17C409.58 556.89 410.92 556.62 412.25 556.34C413.58 556.07 414.92 555.79 416.25 555.51C417.58 555.23 418.92 554.95 420.25 554.67C421.58 554.39 422.92 554.11 424.25 553.83C425.58 553.54 426.92 553.26 428.25 552.97C429.58 552.68 430.92 552.39 432.25 552.09C433.58 551.8 434.92 551.5 436.25 551.19C437.58 550.89 438.92 550.59 440.25 550.28C441.58 549.97 442.92 549.65 444.25 549.33C445.58 549.01 446.92 548.69 448.25 548.36C449.58 548.03 450.92 547.69 452.25 547.35C453.58 547.01 454.92 546.66 456.25 546.31C457.58 545.95 458.92 545.59 460.25 545.23C461.58 544.86 462.92 544.48 464.25 544.1C465.58 543.72 466.92 543.33 468.25 542.93C469.58 542.53 470.92 542.13 472.25 541.71C473.58 541.29 474.92 540.87 476.25 540.44C477.58 540 478.92 539.56 480.25 539.11C481.58 538.66 482.92 538.2 484.25 537.73C485.58 537.27 486.92 536.79 488.25 536.31C489.58 535.83 490.92 535.34 492.25 534.84C493.58 534.35 494.92 533.85 496.25 533.34C497.58 532.83 498.92 532.32 500.25 531.8C501.58 531.29 502.92 530.76 504.25 530.23C505.58 529.71 506.92 529.18 508.25 528.64C509.58 528.1 510.92 527.56 512.25 527.02C513.58 526.48 514.92 525.93 516.25 525.38C517.58 524.84 518.92 524.29 520.25 523.73C521.58 523.18 522.92 522.63 524.25 522.07C525.58 521.51 526.92 520.96 528.25 520.4C529.58 519.84 530.92 519.28 532.25 518.73C533.58 518.17 534.92 517.61 536.25 517.05C537.58 516.49 538.92 515.94 540.25 515.38C541.58 514.83 542.92 514.27 544.25 513.72C545.58 513.16 546.92 512.61 548.25 512.06C549.58 511.5 550.92 510.95 552.25 510.4C553.58 509.85 554.92 509.3 556.25 508.76C557.58 508.21 558.92 507.66 560.25 507.12C561.58 506.58 562.92 506.03 564.25 505.49C565.58 504.95 566.92 504.41 568.25 503.88C569.58 503.34 570.92 502.8 572.25 502.27C573.58 501.74 574.92 501.21 576.25 500.68C577.58 500.15 578.92 499.63 580.25 499.1C581.58 498.58 582.92 498.06 584.25 497.54C585.58 497.02 586.92 496.51 588.25 496C589.58 495.48 590.92 494.97 592.25 494.47C593.58 493.96 594.92 493.46 596.25 492.96C597.58 492.46 598.92 491.96 600.25 491.47C601.58 490.97 602.92 490.48 604.25 490C605.58 489.51 606.92 489.03 608.25 488.55C609.58 488.07 610.92 487.6 612.25 487.12C613.58 486.65 614.92 486.19 616.25 485.72C617.58 485.26 618.92 484.8 620.25 484.35C621.58 483.89 622.92 483.44 624.25 482.99C625.58 482.55 626.92 482.11 628.25 481.67C629.58 481.23 630.92 480.8 632.25 480.37C633.58 479.95 634.92 479.52 636.25 479.11C637.58 478.69 638.92 478.28 640.25 477.87C641.58 477.46 642.92 477.06 644.25 476.66C645.58 476.27 646.92 475.88 648.25 475.49C649.58 475.1 650.92 474.72 652.25 474.35C653.58 473.97 654.92 473.6 656.25 473.23C657.58 472.86 658.92 472.49 660.25 472.13C661.58 471.77 662.92 471.41 664.25 471.06C665.58 470.7 666.92 470.35 668.25 470C669.58 469.65 670.92 469.3 672.25 468.95C673.58 468.61 674.92 468.26 676.25 467.92C677.58 467.57 678.92 467.23 680.25 466.89C681.58 466.55 682.92 466.2 684.25 465.86C685.58 465.52 686.92 465.18 688.25 464.83C689.58 464.49 690.92 464.15 692.25 463.8C693.58 463.46 694.92 463.11 696.25 462.77C697.58 462.42 698.92 462.07 700.25 461.72C701.58 461.36 702.92 461.01 704.25 460.65C705.58 460.3 706.92 459.94 708.25 459.58C709.58 459.21 710.92 458.85 712.25 458.48C713.58 458.11 714.92 457.74 716.25 457.37C717.58 456.99 718.92 456.62 720.25 456.24C721.58 455.86 722.92 455.48 724.25 455.09C725.58 454.71 726.92 454.32 728.25 453.94C729.58 453.55 730.92 453.16 732.25 452.76C733.58 452.37 734.92 451.98 736.25 451.58C737.58 451.18 738.92 450.79 740.25 450.38C741.58 449.98 742.92 449.58 744.25 449.18C745.58 448.77 746.92 448.37 748.25 447.96C749.58 447.55 750.92 447.14 752.25 446.73C753.58 446.32 754.92 445.91 756.25 445.5C757.58 445.08 758.92 444.67 760.25 444.25C761.58 443.84 762.92 443.42 764.25 443C765.58 442.58 766.92 442.16 768.25 441.74C769.58 441.32 770.92 440.9 772.25 440.48C773.58 440.05 774.92 439.63 776.25 439.21C777.58 438.78 778.92 438.36 780.25 437.93C781.58 437.51 782.92 437.08 784.25 436.65C785.58 436.23 786.92 435.8 788.25 435.37C789.58 434.94 790.92 434.52 792.25 434.09C793.58 433.66 794.92 433.23 796.25 432.8C797.58 432.37 798.92 431.94 800.25 431.52C801.58 431.09 802.92 430.66 804.25 430.23C805.58 429.8 806.92 429.37 808.25 428.94C809.58 428.52 810.92 428.09 812.25 427.66C813.58 427.23 814.92 426.81 816.25 426.38C817.58 425.95 818.92 425.53 820.25 425.1C821.58 424.67 822.92 424.25 824.25 423.82C825.58 423.4 826.92 422.98 828.25 422.55C829.58 422.13 830.92 421.71 832.25 421.29C833.58 420.87 834.92 420.45 836.25 420.03C837.58 419.61 838.92 419.19 840.25 418.78C841.58 418.36 842.92 417.94 844.25 417.53C845.58 417.12 846.92 416.7 848.25 416.29C849.58 415.88 850.92 415.47 852.25 415.07C853.58 414.66 854.92 414.25 856.25 413.85C857.58 413.44 858.92 413.04 860.25 412.64C861.58 412.24 862.92 411.84 864.25 411.44C865.58 411.04 866.92 410.65 868.25 410.26C869.58 409.86 870.92 409.47 872.25 409.08C873.58 408.69 874.92 408.31 876.25 407.92C877.58 407.54 878.92 407.16 880.25 406.78C881.58 406.4 882.92 406.02 884.25 405.65C885.58 405.28 886.92 404.9 888.25 404.53C889.58 404.17 890.92 403.8 892.25 403.44C893.58 403.07 894.92 402.71 896.25 402.36C897.58 402 898.92 401.64 900.25 401.29C901.58 400.94 902.92 400.59 904.25 400.25C905.58 399.9 906.92 399.56 908.25 399.22C909.58 398.88 910.92 398.55 912.25 398.22C913.58 397.89 914.92 397.56 916.25 397.23C917.58 396.91 918.92 396.59 920.25 396.27C921.58 395.95 922.92 395.64 924.25 395.33C925.58 395.02 926.92 394.72 928.25 394.41C929.58 394.11 930.92 393.81 932.25 393.52C933.58 393.23 934.92 392.94 936.25 392.65C937.58 392.37 938.92 392.09 940.25 391.81C941.58 391.54 942.92 391.26 944.25 391C945.58 390.73 946.92 390.47 948.25 390.21C949.58 389.96 950.92 389.71 952.25 389.46C953.58 389.21 954.92 388.97 956.25 388.74C957.58 388.5 958.92 388.27 960.25 388.05C961.58 387.83 962.92 387.61 964.25 387.4C965.58 387.18 966.92 386.98 968.25 386.78C969.58 386.58 970.92 386.39 972.25 386.2C973.58 386.01 974.92 385.83 976.25 385.66C977.58 385.48 978.92 385.32 980.25 385.16C981.58 385 982.92 384.84 984.25 384.7C985.58 384.55 986.92 384.41 988.25 384.28C989.58 384.15 990.92 384.03 992.25 383.91C993.58 383.8 994.92 383.69 996.25 383.59C997.58 383.49 998.92 383.39 1000.25 383.31C1001.58 383.22 1002.92 383.15 1004.25 383.08C1005.58 383.01 1006.92 382.94 1008.25 382.88C1009.58 382.83 1010.92 382.77 1012.25 382.72C1013.58 382.67 1014.92 382.63 1016.25 382.59C1017.58 382.55 1018.92 382.51 1020.25 382.47C1021.58 382.43 1022.92 382.4 1024.25 382.36C1025.58 382.32 1026.92 382.29 1028.25 382.25C1029.58 382.21 1030.92 382.18 1032.25 382.14C1033.58 382.09 1034.92 382.05 1036.25 382.01C1037.58 381.96 1038.92 381.91 1040.25 381.86C1041.58 381.8 1042.92 381.74 1044.25 381.67C1045.58 381.61 1046.92 381.54 1048.25 381.46C1049.58 381.38 1050.92 381.29 1052.25 381.19C1053.58 381.1 1054.92 380.99 1056.25 380.88C1057.58 380.77 1058.92 380.64 1060.25 380.51C1061.58 380.38 1062.92 380.24 1064.25 380.1C1065.58 379.95 1066.92 379.8 1068.25 379.63C1069.58 379.47 1070.92 379.3 1072.25 379.13C1073.58 378.95 1074.92 378.76 1076.25 378.57C1077.58 378.38 1078.92 378.19 1080.25 377.98C1081.58 377.78 1082.92 377.57 1084.25 377.35C1085.58 377.14 1086.92 376.91 1088.25 376.69C1089.58 376.46 1090.92 376.22 1092.25 375.99C1093.58 375.75 1094.92 375.5 1096.25 375.25C1097.58 375.01 1098.92 374.75 1100.25 374.49C1101.58 374.24 1102.92 373.97 1104.25 373.71C1105.58 373.44 1106.92 373.17 1108.25 372.89C1109.58 372.62 1110.92 372.34 1112.25 372.06C1113.58 371.78 1114.92 371.49 1116.25 371.2C1117.58 370.92 1118.92 370.62 1120.25 370.33C1121.58 370.04 1122.92 369.74 1124.25 369.44C1125.58 369.14 1126.92 368.84 1128.25 368.54C1129.58 368.24 1130.92 367.93 1132.25 367.63C1133.58 367.32 1134.92 367.01 1136.25 366.7C1137.58 366.4 1138.92 366.09 1140.25 365.78C1141.58 365.47 1142.92 365.15 1144.25 364.84C1145.58 364.53 1146.92 364.22 1148.25 363.91C1149.58 363.59 1150.92 363.28 1152.25 362.97C1153.58 362.66 1154.92 362.35 1156.25 362.04C1157.58 361.73 1158.92 361.42 1160.25 361.11C1161.58 360.8 1162.92 360.49 1164.25 360.19C1165.58 359.88 1166.92 359.58 1168.25 359.28C1169.58 358.97 1170.92 358.67 1172.25 358.37C1173.58 358.08 1174.92 357.78 1176.25 357.49C1177.58 357.19 1178.92 356.9 1180.25 356.62C1181.58 356.33 1182.92 356.04 1184.25 355.76C1185.58 355.48 1186.92 355.2 1188.25 354.93C1189.58 354.65 1190.92 354.38 1192.25 354.11C1193.58 353.84 1194.92 353.57 1196.25 353.31C1197.58 353.05 1198.92 352.78 1200.25 352.53C1201.58 352.27 1202.92 352.01 1204.25 351.76C1205.58 351.51 1206.92 351.26 1208.25 351.01C1209.58 350.76 1210.92 350.52 1212.25 350.27C1213.58 350.03 1214.92 349.79 1216.25 349.55C1217.58 349.32 1218.92 349.08 1220.25 348.85C1221.58 348.62 1222.92 348.39 1224.25 348.16C1225.58 347.93 1226.92 347.71 1228.25 347.49C1229.58 347.26 1230.92 347.04 1232.25 346.82C1233.58 346.6 1234.92 346.39 1236.25 346.17C1237.58 345.96 1238.92 345.75 1240.25 345.54C1241.58 345.33 1242.92 345.12 1244.25 344.92C1245.58 344.71 1246.92 344.51 1248.25 344.31C1249.58 344.11 1250.92 343.91 1252.25 343.71C1253.58 343.51 1254.92 343.31 1256.25 343.12C1257.58 342.93 1258.92 342.74 1260.25 342.55C1261.58 342.35 1262.92 342.17 1264.25 341.98C1265.58 341.79 1266.92 341.61 1268.25 341.42C1269.58 341.24 1270.92 341.06 1272.25 340.88C1273.58 340.7 1274.92 340.52 1276.25 340.34C1277.58 340.17 1278.92 339.99 1280.25 339.82C1281.58 339.64 1282.92 339.47 1284.25 339.3C1285.58 339.13 1286.92 338.96 1288.25 338.79C1289.58 338.62 1290.92 338.45 1292.25 338.29C1293.58 338.12 1294.92 337.96 1296.25 337.79C1297.58 337.63 1298.92 337.47 1300.25 337.31C1301.58 337.15 1302.92 336.99 1304.25 336.83C1305.58 336.67 1306.92 336.51 1308.25 336.35C1309.58 336.2 1311.27 336 1312.25 335.89C1313.23 335.77 1313.79 335.71 1314.1 335.67" stroke="#e0605c" stroke-width="1" fill="none"/>
<path d="M56.25 506.55C56.92 506.47 58.92 506.2 60.25 506.04C61.58 505.88 62.92 505.73 64.25 505.6C65.58 505.46 66.92 505.34 68.25 505.23C69.58 505.11 70.92 505.01 72.25 504.92C73.58 504.83 74.92 504.75 76.25 504.68C77.58 504.61 78.92 504.55 80.25 504.5C81.58 504.45 82.92 504.41 84.25 504.37C85.58 504.34 86.92 504.31 88.25 504.29C89.58 504.28 90.92 504.26 92.25 504.26C93.58 504.26 94.92 504.26 96.25 504.27C97.58 504.28 98.92 504.29 100.25 504.31C101.58 504.33 102.92 504.36 104.25 504.39C105.58 504.42 106.92 504.45 108.25 504.49C109.58 504.53 110.92 504.58 112.25 504.62C113.58 504.67 114.92 504.72 116.25 504.77C117.58 504.82 118.92 504.88 120.25 504.93C121.58 504.99 122.92 505.05 124.25 505.11C125.58 505.17 126.92 505.23 128.25 505.29C129.58 505.35 130.92 505.41 132.25 505.47C133.58 505.53 134.92 505.59 136.25 505.65C137.58 505.71 138.92 505.77 140.25 505.83C141.58 505.89 142.92 505.94 144.25 506C145.58 506.05 146.92 506.1 148.25 506.15C149.58 506.19 150.92 506.24 152.25 506.28C153.58 506.32 154.92 506.36 156.25 506.39C157.58 506.42 158.92 506.45 160.25 506.47C161.58 506.49 162.92 506.51 164.25 506.52C165.58 506.53 166.92 506.53 168.25 506.53C169.58 506.53 170.92 506.52 172.25 506.5C173.58 506.49 174.92 506.46 176.25 506.43C177.58 506.4 178.92 506.36 180.25 506.32C181.58 506.27 182.92 506.21 184.25 506.15C185.58 506.09 186.92 506.03 188.25 505.95C189.58 505.88 190.92 505.8 192.25 505.71C193.58 505.63 194.92 505.54 196.25 505.44C197.58 505.34 198.92 505.24 200.25 505.14C201.58 505.03 202.92 504.92 204.25 504.81C205.58 504.69 206.92 504.57 208.25 504.45C209.58 504.33 210.92 504.2 212.25 504.07C213.58 503.94 214.92 503.81 216.25 503.67C217.58 503.54 218.92 503.4 220.25 503.26C221.58 503.12 222.92 502.98 224.25 502.84C225.58 502.69 226.92 502.55 228.25 502.4C229.58 502.26 230.92 502.11 232.25 501.96C233.58 501.81 234.92 501.67 236.25 501.52C237.58 501.37 238.92 501.22 240.25 501.07C241.58 500.93 242.92 500.78 244.25 500.63C245.58 500.49 246.92 500.34 248.25 500.2C249.58 500.06 250.92 499.92 252.25 499.78C253.58 499.64 254.92 499.5 256.25 499.36C257.58 499.23 258.92 499.1 260.25 498.97C261.58 498.84 262.92 498.71 264.25 498.59C265.58 498.47 266.92 498.35 268.25 498.23C269.58 498.12 270.92 498.01 272.25 497.9C273.58 497.8 274.92 497.69 276.25 497.6C277.58 497.5 278.92 497.41 280.25 497.33C281.58 497.24 282.92 497.16 284.25 497.09C285.58 497.01 286.92 496.95 288.25 496.89C289.58 496.83 290.92 496.77 292.25 496.73C293.58 496.68 294.92 496.64 296.25 496.61C297.58 496.58 298.92 496.55 300.25 496.54C301.58 496.52 302.92 496.52 304.25 496.52C305.58 496.52 306.92 496.53 308.25 496.54C309.58 496.56 310.92 496.58 312.25 496.61C313.58 496.64 314.92 496.68 316.25 496.72C317.58 496.77 318.92 496.82 320.25 496.87C321.58 496.93 322.92 496.99 324.25 497.06C325.58 497.12 326.92 497.2 328.25 497.28C329.58 497.35 330.92 497.44 332.25 497.53C333.58 497.61 334.92 497.71 336.25 497.81C337.58 497.9 338.92 498 340.25 498.11C341.58 498.21 342.92 498.32 344.25 498.44C345.58 498.55 346.92 498.67 348.25 498.78C349.58 498.9 350.92 499.03 352.25 499.15C353.58 499.27 354.92 499.4 356.25 499.53C357.58 499.66 358.92 499.79 360.25 499.92C361.58 500.06 362.92 500.19 364.25 500.33C365.58 500.46 366.92 500.6 368.25 500.74C369.58 500.88 370.92 501.01 372.25 501.15C373.58 501.29 374.92 501.43 376.25 501.57C377.58 501.71 378.92 501.85 380.25 501.99C381.58 502.13 382.92 502.26 384.25 502.4C385.58 502.54 386.92 502.67 388.25 502.81C389.58 502.94 390.92 503.08 392.25 503.21C393.58 503.34 394.92 503.47 396.25 503.6C397.58 503.72 398.92 503.85 400.25 503.97C401.58 504.09 402.92 504.21 404.25 504.32C405.58 504.44 406.92 504.54 408.25 504.65C409.58 504.75 410.92 504.85 412.25 504.94C413.58 505.03 414.92 505.12 416.25 505.2C417.58 505.28 418.92 505.35 420.25 505.41C421.58 505.48 422.92 505.53 424.25 505.58C425.58 505.62 426.92 505.66 428.25 505.69C429.58 505.71 430.92 505.73 432.25 505.74C433.58 505.74 434.92 505.74 436.25 505.72C437.58 505.7 438.92 505.67 440.25 505.63C441.58 505.58 442.92 505.53 444.25 505.46C445.58 505.39 446.92 505.31 448.25 505.21C449.58 505.11 450.92 504.99 452.25 504.86C453.58 504.73 454.92 504.59 456.25 504.43C457.58 504.26 458.92 504.09 460.25 503.89C461.58 503.69 462.92 503.48 464.25 503.24C465.58 503.01 466.92 502.76 468.25 502.49C469.58 502.22 470.92 501.92 472.25 501.61C473.58 501.3 474.92 500.97 476.25 500.61C477.58 500.26 478.92 499.88 480.25 499.49C481.58 499.1 482.92 498.69 484.25 498.26C485.58 497.84 486.92 497.4 488.25 496.95C489.58 496.5 490.92 496.03 492.25 495.56C493.58 495.08 494.92 494.6 496.25 494.11C497.58 493.62 498.92 493.12 500.25 492.63C501.58 492.13 502.92 491.62 504.25 491.12C505.58 490.61 506.92 490.11 508.25 489.6C509.58 489.1 510.92 488.6 512.25 488.1C513.58 487.6 514.92 487.11 516.25 486.62C517.58 486.14 518.92 485.66 520.25 485.19C521.58 484.72 522.92 484.26 524.25 483.82C525.58 483.37 526.92 482.94 528.25 482.52C529.58 482.11 530.92 481.71 532.25 481.32C533.58 480.94 534.92 480.57 536.25 480.21C537.58 479.86 538.92 479.52 540.25 479.18C541.58 478.85 542.92 478.53 544.25 478.21C545.58 477.9 546.92 477.59 548.25 477.29C549.58 476.99 550.92 476.69 552.25 476.4C553.58 476.11 554.92 475.82 556.25 475.53C557.58 475.24 558.92 474.95 560.25 474.66C561.58 474.36 562.92 474.07 564.25 473.77C565.58 473.47 566.92 473.17 568.25 472.86C569.58 472.55 570.92 472.23 572.25 471.9C573.58 471.58 574.92 471.24 576.25 470.89C577.58 470.54 578.92 470.18 580.25 469.8C581.58 469.42 582.92 469.03 584.25 468.63C585.58 468.22 586.92 467.8 588.25 467.37C589.58 466.94 590.92 466.49 592.25 466.04C593.58 465.58 594.92 465.11 596.25 464.63C597.58 464.14 598.92 463.65 600.25 463.15C601.58 462.64 602.92 462.13 604.25 461.6C605.58 461.07 606.92 460.54 608.25 459.99C609.58 459.45 610.92 458.89 612.25 458.33C613.58 457.76 614.92 457.19 616.25 456.61C617.58 456.03 618.92 455.44 620.25 454.84C621.58 454.25 622.92 453.64 624.25 453.03C625.58 452.42 626.92 451.8 628.25 451.18C629.58 450.56 630.92 449.93 632.25 449.3C633.58 448.66 634.92 448.02 636.25 447.38C637.58 446.73 638.92 446.08 640.25 445.43C641.58 444.78 642.92 444.12 644.25 443.47C645.58 442.81 646.92 442.14 648.25 441.48C649.58 440.82 650.92 440.15 652.25 439.48C653.58 438.81 654.92 438.14 656.25 437.47C657.58 436.8 658.92 436.13 660.25 435.46C661.58 434.79 662.92 434.11 664.25 433.44C665.58 432.77 666.92 432.1 668.25 431.43C669.58 430.76 670.92 430.09 672.25 429.43C673.58 428.76 674.92 428.1 676.25 427.44C677.58 426.77 678.92 426.11 680.25 425.46C681.58 424.8 682.92 424.15 684.25 423.5C685.58 422.85 686.92 422.21 688.25 421.57C689.58 420.92 690.92 420.28 692.25 419.65C693.58 419.01 694.92 418.38 696.25 417.74C697.58 417.11 698.92 416.48 700.25 415.86C701.58 415.23 702.92 414.6 704.25 413.98C705.58 413.36 706.92 412.74 708.25 412.12C709.58 411.5 710.92 410.88 712.25 410.26C713.58 409.65 714.92 409.03 716.25 408.42C717.58 407.81 718.92 407.19 720.25 406.58C721.58 405.97 722.92 405.36 724.25 404.75C725.58 404.14 726.92 403.53 728.25 402.93C729.58 402.32 730.92 401.71 732.25 401.1C733.58 400.5 734.92 399.89 736.25 399.28C737.58 398.68 738.92 398.07 740.25 397.46C741.58 396.86 742.92 396.25 744.25 395.64C745.58 395.04 746.92 394.43 748.25 393.82C749.58 393.21 750.92 392.6 752.25 391.99C753.58 391.38 754.92 390.77 756.25 390.16C757.58 389.55 758.92 388.94 760.25 388.32C761.58 387.71 762.92 387.09 764.25 386.47C765.58 385.86 766.92 385.24 768.25 384.62C769.58 384 770.92 383.37 772.25 382.75C773.58 382.13 774.92 381.5 776.25 380.87C777.58 380.24 778.92 379.61 780.25 378.98C781.58 378.34 782.92 377.7 784.25 377.06C785.58 376.42 786.92 375.78 788.25 375.13C789.58 374.48 790.92 373.82 792.25 373.16C793.58 372.51 794.92 371.84 796.25 371.17C797.58 370.5 798.92 369.83 800.25 369.15C801.58 368.47 802.92 367.78 804.25 367.09C805.58 366.39 806.92 365.69 808.25 364.98C809.58 364.28 810.92 363.56 812.25 362.84C813.58 362.11 814.92 361.38 816.25 360.64C817.58 359.9 818.92 359.15 820.25 358.4C821.58 357.64 822.92 356.87 824.25 356.09C825.58 355.32 826.92 354.53 828.25 353.73C829.58 352.93 830.92 352.13 832.25 351.31C833.58 350.49 834.92 349.66 836.25 348.83C837.58 348 838.92 347.15 840.25 346.31C841.58 345.46 842.92 344.61 844.25 343.76C845.58 342.9 846.92 342.04 848.25 341.19C849.58 340.33 850.92 339.47 852.25 338.61C853.58 337.75 854.92 336.9 856.25 336.04C857.58 335.19 858.92 334.34 860.25 333.49C861.58 332.65 862.92 331.81 864.25 330.97C865.58 330.14 866.92 329.32 868.25 328.5C869.58 327.68 870.92 326.88 872.25 326.08C873.58 325.28 874.92 324.5 876.25 323.71C877.58 322.93 878.92 322.15 880.25 321.38C881.58 320.6 882.92 319.83 884.25 319.06C885.58 318.28 886.92 317.51 888.25 316.73C889.58 315.95 890.92 315.17 892.25 314.38C893.58 313.59 894.92 312.8 896.25 311.99C897.58 311.19 898.92 310.37 900.25 309.55C901.58 308.72 902.92 307.88 904.25 307.03C905.58 306.19 906.92 305.33 908.25 304.47C909.58 303.61 910.92 302.74 912.25 301.87C913.58 301 914.92 300.13 916.25 299.25C917.58 298.38 918.92 297.51 920.25 296.65C921.58 295.78 922.92 294.91 924.25 294.06C925.58 293.2 926.92 292.35 928.25 291.52C929.58 290.68 930.92 289.85 932.25 289.03C933.58 288.22 934.92 287.41 936.25 286.63C937.58 285.84 938.92 285.07 940.25 284.32C941.58 283.57 942.92 282.84 944.25 282.13C945.58 281.42 946.92 280.73 948.25 280.07C949.58 279.4 950.92 278.76 952.25 278.13C953.58 277.5 954.92 276.9 956.25 276.31C957.58 275.72 958.92 275.15 960.25 274.6C961.58 274.04 962.92 273.51 964.25 272.98C965.58 272.46 966.92 271.96 968.25 271.47C969.58 270.97 970.92 270.5 972.25 270.03C973.58 269.57 974.92 269.12 976.25 268.68C977.58 268.24 978.92 267.82 980.25 267.4C981.58 266.99 982.92 266.59 984.25 266.2C985.58 265.82 986.92 265.44 988.25 265.08C989.58 264.72 990.92 264.37 992.25 264.04C993.58 263.7 994.92 263.38 996.25 263.07C997.58 262.76 998.92 262.46 1000.25 262.18C1001.58 261.9 1002.92 261.63 1004.25 261.37C1005.58 261.11 1006.92 260.87 1008.25 260.64C1009.58 260.41 1010.92 260.19 1012.25 259.99C1013.58 259.79 1014.92 259.6 1016.25 259.42C1017.58 259.24 1018.92 259.08 1020.25 258.93C1021.58 258.78 1022.92 258.64 1024.25 258.52C1025.58 258.4 1026.92 258.29 1028.25 258.19C1029.58 258.1 1030.92 258.02 1032.25 257.95C1033.58 257.88 1034.92 257.82 1036.25 257.78C1037.58 257.74 1038.92 257.72 1040.25 257.7C1041.58 257.69 1042.92 257.69 1044.25 257.71C1045.58 257.72 1046.92 257.75 1048.25 257.79C1049.58 257.83 1050.92 257.89 1052.25 257.95C1053.58 258.02 1054.92 258.1 1056.25 258.18C1057.58 258.26 1058.92 258.36 1060.25 258.45C1061.58 258.55 1062.92 258.65 1064.25 258.76C1065.58 258.86 1066.92 258.97 1068.25 259.08C1069.58 259.19 1070.92 259.3 1072.25 259.4C1073.58 259.5 1074.92 259.61 1076.25 259.7C1077.58 259.8 1078.92 259.89 1080.25 259.98C1081.58 260.06 1082.92 260.14 1084.25 260.2C1085.58 260.27 1086.92 260.32 1088.25 260.36C1089.58 260.4 1090.92 260.43 1092.25 260.45C1093.58 260.46 1094.92 260.46 1096.25 260.43C1097.58 260.41 1098.92 260.37 1100.25 260.31C1101.58 260.25 1102.92 260.17 1104.25 260.07C1105.58 259.96 1106.92 259.83 1108.25 259.68C1109.58 259.52 1110.92 259.35 1112.25 259.15C1113.58 258.95 1114.92 258.73 1116.25 258.5C1117.58 258.26 1118.92 258.01 1120.25 257.74C1121.58 257.47 1122.92 257.19 1124.25 256.89C1125.58 256.59 1126.92 256.28 1128.25 255.96C1129.58 255.65 1130.92 255.31 1132.25 254.98C1133.58 254.64 1134.92 254.3 1136.25 253.95C1137.58 253.6 1138.92 253.25 1140.25 252.89C1141.58 252.54 1142.92 252.18 1144.25 251.82C1145.58 251.46 1146.92 251.11 1148.25 250.75C1149.58 250.4 1150.92 250.05 1152.25 249.71C1153.58 249.36 1154.92 249.02 1156.25 248.69C1157.58 248.36 1158.92 248.04 1160.25 247.73C1161.58 247.42 1162.92 247.12 1164.25 246.84C1165.58 246.55 1166.92 246.28 1168.25 246.02C1169.58 245.77 1170.92 245.53 1172.25 245.31C1173.58 245.09 1174.92 244.89 1176.25 244.7C1177.58 244.52 1178.92 244.35 1180.25 244.2C1181.58 244.05 1182.92 243.92 1184.25 243.8C1185.58 243.69 1186.92 243.59 1188.25 243.51C1189.58 243.43 1190.92 243.36 1192.25 243.31C1193.58 243.27 1194.92 243.24 1196.25 243.22C1197.58 243.21 1198.92 243.21 1200.25 243.23C1201.58 243.25 1202.92 243.29 1204.25 243.34C1205.58 243.39 1206.92 243.46 1208.25 243.55C1209.58 243.63 1210.92 243.73 1212.25 243.85C1213.58 243.97 1214.92 244.1 1216.25 244.25C1217.58 244.4 1218.92 244.56 1220.25 244.74C1221.58 244.92 1222.92 245.12 1224.25 245.32C1225.58 245.53 1226.92 245.76 1228.25 245.99C1229.58 246.23 1230.92 246.48 1232.25 246.74C1233.58 247 1234.92 247.26 1236.25 247.54C1237.58 247.82 1238.92 248.1 1240.25 248.39C1241.58 248.68 1242.92 248.98 1244.25 249.28C1245.58 249.58 1246.92 249.89 1248.25 250.19C1249.58 250.5 1250.92 250.81 1252.25 251.11C1253.58 251.42 1254.92 251.73 1256.25 252.04C1257.58 252.34 1258.92 252.65 1260.25 252.94C1261.58 253.24 1262.92 253.54 1264.25 253.83C1265.58 254.12 1266.92 254.4 1268.25 254.67C1269.58 254.95 1270.92 255.21 1272.25 255.47C1273.58 255.72 1274.92 255.97 1276.25 256.2C1277.58 256.43 1278.92 256.66 1280.25 256.87C1281.58 257.08 1282.92 257.28 1284.25 257.46C1285.58 257.65 1286.92 257.83 1288.25 257.99C1289.58 258.15 1290.92 258.3 1292.25 258.44C1293.58 258.58 1294.92 258.7 1296.25 258.81C1297.58 258.92 1298.92 259.02 1300.25 259.11C1301.58 259.19 1302.92 259.26 1304.25 259.32C1305.58 259.38 1306.92 259.42 1308.25 259.45C1309.58 259.48 1311.27 259.49 1312.25 259.49C1313.23 259.5 1313.79 259.48 1314.1 259.48" stroke="#9a9a9a" stroke-width="1" fill="none"/>
<path d="M56.25 481.82C56.92 481.61 58.92 480.94 60.25 480.54C61.58 480.14 62.92 479.78 64.25 479.44C65.58 479.1 66.92 478.79 68.25 478.51C69.58 478.23 70.92 477.97 72.25 477.74C73.58 477.51 74.92 477.31 76.25 477.13C77.58 476.95 78.92 476.79 80.25 476.66C81.58 476.53 82.92 476.42 84.25 476.33C85.58 476.24 86.92 476.17 88.25 476.13C89.58 476.08 90.92 476.05 92.25 476.05C93.58 476.04 94.92 476.05 96.25 476.08C97.58 476.11 98.92 476.16 100.25 476.22C101.58 476.28 102.92 476.36 104.25 476.46C105.58 476.55 106.92 476.66 108.25 476.78C109.58 476.9 110.92 477.04 112.25 477.19C113.58 477.33 114.92 477.49 116.25 477.66C117.58 477.83 118.92 478.02 120.25 478.21C121.58 478.4 122.92 478.6 124.25 478.81C125.58 479.01 126.92 479.23 128.25 479.45C129.58 479.67 130.92 479.9 132.25 480.14C133.58 480.37 134.92 480.61 136.25 480.86C137.58 481.1 138.92 481.35 140.25 481.6C141.58 481.85 142.92 482.1 144.25 482.36C145.58 482.61 146.92 482.87 148.25 483.12C149.58 483.38 150.92 483.64 152.25 483.89C153.58 484.14 154.92 484.4 156.25 484.65C157.58 484.89 158.92 485.14 160.25 485.38C161.58 485.63 162.92 485.86 164.25 486.1C165.58 486.33 166.92 486.56 168.25 486.78C169.58 487.01 170.92 487.23 172.25 487.44C173.58 487.66 174.92 487.87 176.25 488.07C177.58 488.28 178.92 488.48 180.25 488.68C181.58 488.88 182.92 489.07 184.25 489.26C185.58 489.46 186.92 489.64 188.25 489.83C189.58 490.01 190.92 490.19 192.25 490.37C193.58 490.55 194.92 490.72 196.25 490.89C197.58 491.07 198.92 491.24 200.25 491.4C201.58 491.57 202.92 491.73 204.25 491.9C205.58 492.06 206.92 492.22 208.25 492.37C209.58 492.53 210.92 492.69 212.25 492.84C213.58 493 214.92 493.15 216.25 493.3C217.58 493.45 218.92 493.6 220.25 493.75C221.58 493.89 222.92 494.04 224.25 494.19C225.58 494.33 226.92 494.48 228.25 494.62C229.58 494.76 230.92 494.91 232.25 495.05C233.58 495.19 234.92 495.33 236.25 495.48C237.58 495.62 238.92 495.76 240.25 495.9C241.58 496.04 242.92 496.19 244.25 496.33C245.58 496.47 246.92 496.61 248.25 496.75C249.58 496.9 250.92 497.04 252.25 497.19C253.58 497.33 254.92 497.47 256.25 497.62C257.58 497.77 258.92 497.91 260.25 498.06C261.58 498.21 262.92 498.36 264.25 498.51C265.58 498.66 266.92 498.82 268.25 498.97C269.58 499.13 270.92 499.28 272.25 499.44C273.58 499.6 274.92 499.76 276.25 499.92C277.58 500.09 278.92 500.25 280.25 500.42C281.58 500.59 282.92 500.76 284.25 500.93C285.58 501.11 286.92 501.28 288.25 501.46C289.58 501.64 290.92 501.83 292.25 502.01C293.58 502.2 294.92 502.39 296.25 502.58C297.58 502.77 298.92 502.97 300.25 503.17C301.58 503.37 302.92 503.57 304.25 503.78C305.58 503.98 306.92 504.19 308.25 504.41C309.58 504.62 310.92 504.84 312.25 505.06C313.58 505.28 314.92 505.51 316.25 505.74C317.58 505.97 318.92 506.2 320.25 506.44C321.58 506.68 322.92 506.92 324.25 507.16C325.58 507.41 326.92 507.66 328.25 507.92C329.58 508.17 330.92 508.43 332.25 508.69C333.58 508.96 334.92 509.23 336.25 509.5C337.58 509.77 338.92 510.05 340.25 510.34C341.58 510.62 342.92 510.91 344.25 511.2C345.58 511.49 346.92 511.79 348.25 512.09C349.58 512.4 350.92 512.71 352.25 513.02C353.58 513.33 354.92 513.65 356.25 513.98C357.58 514.3 358.92 514.63 360.25 514.96C361.58 515.3 362.92 515.64 364.25 515.99C365.58 516.33 366.92 516.68 368.25 517.04C369.58 517.39 370.92 517.75 372.25 518.12C373.58 518.48 374.92 518.84 376.25 519.21C377.58 519.57 378.92 519.94 380.25 520.31C381.58 520.68 382.92 521.05 384.25 521.42C385.58 521.78 386.92 522.15 388.25 522.52C389.58 522.88 390.92 523.25 392.25 523.61C393.58 523.97 394.92 524.33 396.25 524.68C397.58 525.03 398.92 525.38 400.25 525.72C401.58 526.07 402.92 526.41 404.25 526.74C405.58 527.07 406.92 527.4 408.25 527.71C409.58 528.02 410.92 528.33 412.25 528.62C413.58 528.91 414.92 529.19 416.25 529.45C417.58 529.71 418.92 529.95 420.25 530.17C421.58 530.39 422.92 530.59 424.25 530.76C425.58 530.93 426.92 531.08 428.25 531.2C429.58 531.31 430.92 531.4 432.25 531.45C433.58 531.5 434.92 531.53 436.25 531.51C437.58 531.49 438.92 531.43 440.25 531.33C441.58 531.23 442.92 531.1 444.25 530.91C445.58 530.72 446.92 530.49 448.25 530.21C449.58 529.93 450.92 529.61 452.25 529.23C453.58 528.85 454.92 528.42 456.25 527.94C457.58 527.46 458.92 526.93 460.25 526.34C461.58 525.75 462.92 525.11 464.25 524.41C465.58 523.71 466.92 522.94 468.25 522.14C469.58 521.33 470.92 520.47 472.25 519.57C473.58 518.67 474.92 517.73 476.25 516.76C477.58 515.79 478.92 514.78 480.25 513.75C481.58 512.73 482.92 511.67 484.25 510.62C485.58 509.56 486.92 508.47 488.25 507.4C489.58 506.32 490.92 505.23 492.25 504.16C493.58 503.08 494.92 502 496.25 500.95C497.58 499.89 498.92 498.84 500.25 497.82C501.58 496.79 502.92 495.78 504.25 494.78C505.58 493.79 506.92 492.81 508.25 491.84C509.58 490.87 510.92 489.92 512.25 488.97C513.58 488.03 514.92 487.1 516.25 486.18C517.58 485.25 518.92 484.34 520.25 483.44C521.58 482.53 522.92 481.64 524.25 480.75C525.58 479.86 526.92 478.98 528.25 478.11C529.58 477.23 530.92 476.36 532.25 475.5C533.58 474.63 534.92 473.77 536.25 472.91C537.58 472.05 538.92 471.2 540.25 470.34C541.58 469.48 542.92 468.63 544.25 467.77C545.58 466.92 546.92 466.06 548.25 465.21C549.58 464.35 550.92 463.5 552.25 462.64C553.58 461.78 554.92 460.92 556.25 460.06C557.58 459.19 558.92 458.33 560.25 457.46C561.58 456.59 562.92 455.72 564.25 454.85C565.58 453.97 566.92 453.09 568.25 452.2C569.58 451.32 570.92 450.43 572.25 449.53C573.58 448.63 574.92 447.73 576.25 446.82C577.58 445.91 578.92 445 580.25 444.07C581.58 443.15 582.92 442.22 584.25 441.28C585.58 440.34 586.92 439.39 588.25 438.43C589.58 437.47 590.92 436.5 592.25 435.52C593.58 434.54 594.92 433.55 596.25 432.55C597.58 431.55 598.92 430.54 600.25 429.52C601.58 428.49 602.92 427.46 604.25 426.41C605.58 425.36 606.92 424.3 608.25 423.22C609.58 422.14 610.92 421.05 612.25 419.95C613.58 418.84 614.92 417.72 616.25 416.59C617.58 415.45 618.92 414.3 620.25 413.14C621.58 411.98 622.92 410.8 624.25 409.61C625.58 408.42 626.92 407.21 628.25 406C629.58 404.79 630.92 403.56 632.25 402.32C633.58 401.09 634.92 399.84 636.25 398.59C637.58 397.33 638.92 396.07 640.25 394.8C641.58 393.53 642.92 392.25 644.25 390.96C645.58 389.68 646.92 388.38 648.25 387.09C649.58 385.79 650.92 384.49 652.25 383.18C653.58 381.88 654.92 380.56 656.25 379.25C657.58 377.94 658.92 376.62 660.25 375.3C661.58 373.99 662.92 372.67 664.25 371.35C665.58 370.03 666.92 368.71 668.25 367.39C669.58 366.07 670.92 364.75 672.25 363.43C673.58 362.12 674.92 360.8 676.25 359.49C677.58 358.18 678.92 356.87 680.25 355.57C681.58 354.27 682.92 352.97 684.25 351.67C685.58 350.38 686.92 349.09 688.25 347.81C689.58 346.53 690.92 345.26 692.25 343.99C693.58 342.73 694.92 341.47 696.25 340.22C697.58 338.98 698.92 337.74 700.25 336.51C701.58 335.28 702.92 334.06 704.25 332.86C705.58 331.65 706.92 330.46 708.25 329.28C709.58 328.1 710.92 326.93 712.25 325.78C713.58 324.62 714.92 323.49 716.25 322.36C717.58 321.23 718.92 320.12 720.25 319.01C721.58 317.91 722.92 316.82 724.25 315.74C725.58 314.66 726.92 313.59 728.25 312.53C729.58 311.47 730.92 310.42 732.25 309.37C733.58 308.33 734.92 307.3 736.25 306.27C737.58 305.25 738.92 304.23 740.25 303.22C741.58 302.21 742.92 301.21 744.25 300.21C745.58 299.21 746.92 298.22 748.25 297.24C749.58 296.25 750.92 295.27 752.25 294.29C753.58 293.31 754.92 292.34 756.25 291.37C757.58 290.4 758.92 289.44 760.25 288.46C761.58 287.49 762.92 286.52 764.25 285.54C765.58 284.56 766.92 283.58 768.25 282.58C769.58 281.58 770.92 280.57 772.25 279.55C773.58 278.52 774.92 277.49 776.25 276.43C777.58 275.37 778.92 274.29 780.25 273.19C781.58 272.1 782.92 270.99 784.25 269.87C785.58 268.76 786.92 267.63 788.25 266.51C789.58 265.4 790.92 264.27 792.25 263.16C793.58 262.05 794.92 260.95 796.25 259.86C797.58 258.78 798.92 257.71 800.25 256.67C801.58 255.63 802.92 254.61 804.25 253.62C805.58 252.64 806.92 251.68 808.25 250.77C809.58 249.86 810.92 248.99 812.25 248.16C813.58 247.33 814.92 246.55 816.25 245.81C817.58 245.06 818.92 244.36 820.25 243.68C821.58 243.01 822.92 242.38 824.25 241.78C825.58 241.18 826.92 240.61 828.25 240.07C829.58 239.53 830.92 239.02 832.25 238.53C833.58 238.05 834.92 237.59 836.25 237.16C837.58 236.72 838.92 236.31 840.25 235.92C841.58 235.53 842.92 235.16 844.25 234.8C845.58 234.44 846.92 234.1 848.25 233.77C849.58 233.44 850.92 233.13 852.25 232.82C853.58 232.51 854.92 232.21 856.25 231.91C857.58 231.61 858.92 231.31 860.25 231.01C861.58 230.71 862.92 230.42 864.25 230.11C865.58 229.8 866.92 229.49 868.25 229.17C869.58 228.85 870.92 228.52 872.25 228.17C873.58 227.82 874.92 227.46 876.25 227.08C877.58 226.69 878.92 226.3 880.25 225.87C881.58 225.45 882.92 225 884.25 224.52C885.58 224.05 886.92 223.54 888.25 223.02C889.58 222.49 890.92 221.93 892.25 221.37C893.58 220.8 894.92 220.21 896.25 219.62C897.58 219.02 898.92 218.41 900.25 217.8C901.58 217.19 902.92 216.57 904.25 215.95C905.58 215.34 906.92 214.72 908.25 214.11C909.58 213.5 910.92 212.9 912.25 212.31C913.58 211.73 914.92 211.15 916.25 210.59C917.58 210.04 918.92 209.5 920.25 208.99C921.58 208.47 922.92 207.97 924.25 207.51C925.58 207.04 926.92 206.6 928.25 206.18C929.58 205.77 930.92 205.39 932.25 205.04C933.58 204.69 934.92 204.37 936.25 204.09C937.58 203.81 938.92 203.57 940.25 203.37C941.58 203.17 942.92 203 944.25 202.89C945.58 202.77 946.92 202.7 948.25 202.68C949.58 202.65 950.92 202.68 952.25 202.75C953.58 202.83 954.92 202.96 956.25 203.14C957.58 203.33 958.92 203.57 960.25 203.87C961.58 204.16 962.92 204.52 964.25 204.92C965.58 205.32 966.92 205.78 968.25 206.27C969.58 206.77 970.92 207.31 972.25 207.89C973.58 208.47 974.92 209.09 976.25 209.74C977.58 210.39 978.92 211.08 980.25 211.79C981.58 212.5 982.92 213.24 984.25 214C985.58 214.75 986.92 215.54 988.25 216.34C989.58 217.13 990.92 217.95 992.25 218.77C993.58 219.59 994.92 220.43 996.25 221.27C997.58 222.1 998.92 222.95 1000.25 223.79C1001.58 224.63 1002.92 225.47 1004.25 226.31C1005.58 227.14 1006.92 227.97 1008.25 228.8C1009.58 229.63 1010.92 230.45 1012.25 231.28C1013.58 232.1 1014.92 232.92 1016.25 233.73C1017.58 234.55 1018.92 235.36 1020.25 236.18C1021.58 236.99 1022.92 237.8 1024.25 238.61C1025.58 239.42 1026.92 240.23 1028.25 241.04C1029.58 241.85 1030.92 242.66 1032.25 243.48C1033.58 244.29 1034.92 245.1 1036.25 245.91C1037.58 246.72 1038.92 247.54 1040.25 248.35C1041.58 249.17 1042.92 249.99 1044.25 250.81C1045.58 251.63 1046.92 252.46 1048.25 253.28C1049.58 254.11 1050.92 254.94 1052.25 255.76C1053.58 256.58 1054.92 257.4 1056.25 258.2C1057.58 259 1058.92 259.79 1060.25 260.56C1061.58 261.33 1062.92 262.09 1064.25 262.81C1065.58 263.54 1066.92 264.24 1068.25 264.91C1069.58 265.57 1070.92 266.21 1072.25 266.8C1073.58 267.4 1074.92 267.95 1076.25 268.46C1077.58 268.97 1078.92 269.43 1080.25 269.85C1081.58 270.27 1082.92 270.64 1084.25 270.96C1085.58 271.29 1086.92 271.57 1088.25 271.81C1089.58 272.05 1090.92 272.24 1092.25 272.39C1093.58 272.55 1094.92 272.66 1096.25 272.72C1097.58 272.79 1098.92 272.82 1100.25 272.8C1101.58 272.79 1102.92 272.73 1104.25 272.64C1105.58 272.55 1106.92 272.41 1108.25 272.24C1109.58 272.07 1110.92 271.86 1112.25 271.61C1113.58 271.36 1114.92 271.07 1116.25 270.75C1117.58 270.44 1118.92 270.08 1120.25 269.7C1121.58 269.32 1122.92 268.91 1124.25 268.5C1125.58 268.08 1126.92 267.64 1128.25 267.2C1129.58 266.76 1130.92 266.3 1132.25 265.85C1133.58 265.41 1134.92 264.95 1136.25 264.52C1137.58 264.08 1138.92 263.65 1140.25 263.24C1141.58 262.84 1142.92 262.44 1144.25 262.08C1145.58 261.72 1146.92 261.38 1148.25 261.09C1149.58 260.79 1150.92 260.53 1152.25 260.31C1153.58 260.09 1154.92 259.91 1156.25 259.77C1157.58 259.62 1158.92 259.51 1160.25 259.43C1161.58 259.36 1162.92 259.31 1164.25 259.3C1165.58 259.28 1166.92 259.3 1168.25 259.34C1169.58 259.38 1170.92 259.45 1172.25 259.55C1173.58 259.64 1174.92 259.76 1176.25 259.9C1177.58 260.03 1178.92 260.19 1180.25 260.37C1181.58 260.55 1182.92 260.75 1184.25 260.96C1185.58 261.17 1186.92 261.4 1188.25 261.63C1189.58 261.87 1190.92 262.12 1192.25 262.38C1193.58 262.64 1194.92 262.92 1196.25 263.19C1197.58 263.47 1198.92 263.75 1200.25 264.04C1201.58 264.33 1202.92 264.62 1204.25 264.91C1205.58 265.2 1206.92 265.5 1208.25 265.8C1209.58 266.1 1210.92 266.41 1212.25 266.72C1213.58 267.03 1214.92 267.35 1216.25 267.67C1217.58 268 1218.92 268.33 1220.25 268.67C1221.58 269 1222.92 269.35 1224.25 269.7C1225.58 270.06 1226.92 270.42 1228.25 270.79C1229.58 271.16 1230.92 271.54 1232.25 271.93C1233.58 272.32 1234.92 272.72 1236.25 273.14C1237.58 273.55 1238.92 273.97 1240.25 274.41C1241.58 274.85 1242.92 275.29 1244.25 275.76C1245.58 276.22 1246.92 276.69 1248.25 277.18C1249.58 277.67 1250.92 278.17 1252.25 278.69C1253.58 279.21 1254.92 279.75 1256.25 280.3C1257.58 280.85 1258.92 281.41 1260.25 281.99C1261.58 282.58 1262.92 283.18 1264.25 283.8C1265.58 284.41 1266.92 285.05 1268.25 285.69C1269.58 286.32 1270.92 286.98 1272.25 287.62C1273.58 288.27 1274.92 288.93 1276.25 289.57C1277.58 290.21 1278.92 290.85 1280.25 291.47C1281.58 292.1 1282.92 292.71 1284.25 293.3C1285.58 293.89 1286.92 294.46 1288.25 295C1289.58 295.54 1290.92 296.06 1292.25 296.53C1293.58 297.01 1294.92 297.46 1296.25 297.86C1297.58 298.26 1298.92 298.62 1300.25 298.93C1301.58 299.24 1302.92 299.5 1304.25 299.71C1305.58 299.91 1306.92 300.06 1308.25 300.14C1309.58 300.22 1311.27 300.21 1312.25 300.2C1313.23 300.19 1313.79 300.1 1314.1 300.08" stroke="#ff8a1c" stroke-width="1" fill="none"/>
<path d="M56.25 464.48C56.92 464.49 58.92 464.5 60.25 464.5C61.58 464.5 62.92 464.51 64.25 464.51C65.58 464.52 66.92 464.52 68.25 464.53C69.58 464.54 70.92 464.55 72.25 464.57C73.58 464.59 74.92 464.62 76.25 464.65C77.58 464.68 78.92 464.72 80.25 464.77C81.58 464.82 82.92 464.88 84.25 464.96C85.58 465.03 86.92 465.11 88.25 465.21C89.58 465.31 90.92 465.42 92.25 465.55C93.58 465.68 94.92 465.82 96.25 465.99C97.58 466.16 98.92 466.34 100.25 466.55C101.58 466.76 102.92 467 104.25 467.27C105.58 467.54 106.92 467.83 108.25 468.17C109.58 468.51 110.92 468.89 112.25 469.31C113.58 469.73 114.92 470.19 116.25 470.71C117.58 471.22 118.92 471.78 120.25 472.41C121.58 473.03 122.92 473.7 124.25 474.44C125.58 475.18 126.92 475.99 128.25 476.84C129.58 477.68 130.92 478.59 132.25 479.49C133.58 480.39 134.92 481.34 136.25 482.26C137.58 483.17 138.92 484.11 140.25 484.99C141.58 485.87 142.92 486.75 144.25 487.55C145.58 488.34 146.92 489.11 148.25 489.77C149.58 490.44 150.92 491.02 152.25 491.54C153.58 492.06 154.92 492.48 156.25 492.91C157.58 493.34 158.92 493.71 160.25 494.13C161.58 494.56 162.92 494.98 164.25 495.45C165.58 495.92 166.92 496.44 168.25 496.98C169.58 497.52 170.92 498.09 172.25 498.69C173.58 499.28 174.92 499.9 176.25 500.54C177.58 501.18 178.92 501.84 180.25 502.51C181.58 503.17 182.92 503.86 184.25 504.54C185.58 505.22 186.92 505.92 188.25 506.61C189.58 507.3 190.92 507.99 192.25 508.67C193.58 509.35 194.92 510.03 196.25 510.69C197.58 511.35 198.92 512.01 200.25 512.64C201.58 513.27 202.92 513.88 204.25 514.46C205.58 515.05 206.92 515.61 208.25 516.14C209.58 516.66 210.92 517.16 212.25 517.62C213.58 518.08 214.92 518.49 216.25 518.88C217.58 519.27 218.92 519.63 220.25 519.96C221.58 520.3 222.92 520.6 224.25 520.9C225.58 521.19 226.92 521.47 228.25 521.74C229.58 522.01 230.92 522.27 232.25 522.53C233.58 522.79 234.92 523.05 236.25 523.32C237.58 523.59 238.92 523.86 240.25 524.15C241.58 524.44 242.92 524.74 244.25 525.07C245.58 525.4 246.92 525.74 248.25 526.12C249.58 526.51 250.92 526.92 252.25 527.36C253.58 527.79 254.92 528.27 256.25 528.74C257.58 529.21 258.92 529.71 260.25 530.18C261.58 530.66 262.92 531.15 264.25 531.6C265.58 532.05 266.92 532.49 268.25 532.89C269.58 533.28 270.92 533.66 272.25 533.97C273.58 534.28 274.92 534.54 276.25 534.75C277.58 534.95 278.92 535.09 280.25 535.17C281.58 535.26 282.92 535.29 284.25 535.27C285.58 535.25 286.92 535.17 288.25 535.05C289.58 534.93 290.92 534.76 292.25 534.55C293.58 534.33 294.92 534.07 296.25 533.78C297.58 533.48 298.92 533.14 300.25 532.77C301.58 532.4 302.92 531.99 304.25 531.57C305.58 531.15 306.92 530.7 308.25 530.26C309.58 529.83 310.92 529.38 312.25 528.96C313.58 528.55 314.92 528.14 316.25 527.78C317.58 527.43 318.92 527.09 320.25 526.83C321.58 526.57 322.92 526.35 324.25 526.21C325.58 526.08 326.92 526.03 328.25 526.01C329.58 526 330.92 526.07 332.25 526.11C333.58 526.16 334.92 526.26 336.25 526.31C337.58 526.36 338.92 526.4 340.25 526.41C341.58 526.42 342.92 526.4 344.25 526.36C345.58 526.33 346.92 526.28 348.25 526.22C349.58 526.17 350.92 526.1 352.25 526.03C353.58 525.96 354.92 525.89 356.25 525.83C357.58 525.77 358.92 525.71 360.25 525.67C361.58 525.63 362.92 525.59 364.25 525.59C365.58 525.58 366.92 525.59 368.25 525.64C369.58 525.68 370.92 525.75 372.25 525.86C373.58 525.97 374.92 526.12 376.25 526.3C377.58 526.49 378.92 526.72 380.25 526.97C381.58 527.22 382.92 527.51 384.25 527.81C385.58 528.1 386.92 528.42 388.25 528.74C389.58 529.06 390.92 529.4 392.25 529.72C393.58 530.03 394.92 530.36 396.25 530.66C397.58 530.96 398.92 531.25 400.25 531.51C401.58 531.77 402.92 532.01 404.25 532.21C405.58 532.4 406.92 532.57 408.25 532.69C409.58 532.82 410.92 532.9 412.25 532.96C413.58 533.02 414.92 533.05 416.25 533.05C417.58 533.06 418.92 533.03 420.25 532.99C421.58 532.94 422.92 532.87 424.25 532.79C425.58 532.71 426.92 532.61 428.25 532.5C429.58 532.39 430.92 532.28 432.25 532.13C433.58 531.99 434.92 531.84 436.25 531.63C437.58 531.43 438.92 531.2 440.25 530.89C441.58 530.59 442.92 530.24 444.25 529.79C445.58 529.34 446.92 528.83 448.25 528.2C449.58 527.58 450.92 526.85 452.25 526.02C453.58 525.2 454.92 524.25 456.25 523.23C457.58 522.21 458.92 521.08 460.25 519.88C461.58 518.68 462.92 517.39 464.25 516.04C465.58 514.69 466.92 513.26 468.25 511.78C469.58 510.3 470.92 508.74 472.25 507.15C473.58 505.56 474.92 503.91 476.25 502.23C477.58 500.54 478.92 498.81 480.25 497.06C481.58 495.31 482.92 493.53 484.25 491.72C485.58 489.92 486.92 488.08 488.25 486.24C489.58 484.39 490.92 482.52 492.25 480.65C493.58 478.77 494.92 476.88 496.25 474.98C497.58 473.08 498.92 471.17 500.25 469.27C501.58 467.36 502.92 465.45 504.25 463.55C505.58 461.65 506.92 459.74 508.25 457.85C509.58 455.97 510.92 454.08 512.25 452.22C513.58 450.35 514.92 448.5 516.25 446.67C517.58 444.84 518.92 443.03 520.25 441.24C521.58 439.45 522.92 437.68 524.25 435.94C525.58 434.19 526.92 432.46 528.25 430.75C529.58 429.05 530.92 427.36 532.25 425.68C533.58 424.01 534.92 422.36 536.25 420.72C537.58 419.08 538.92 417.46 540.25 415.85C541.58 414.24 542.92 412.69 544.25 411.06C545.58 409.43 546.92 407.86 548.25 406.08C549.58 404.3 550.92 402.42 552.25 400.39C553.58 398.36 554.92 396.15 556.25 393.9C557.58 391.64 558.92 389.25 560.25 386.85C561.58 384.44 562.92 381.95 564.25 379.48C565.58 377.02 566.92 374.5 568.25 372.06C569.58 369.61 570.92 367.15 572.25 364.8C573.58 362.45 574.92 360.16 576.25 357.94C577.58 355.73 578.92 353.59 580.25 351.5C581.58 349.41 582.92 347.38 584.25 345.39C585.58 343.4 586.92 341.47 588.25 339.56C589.58 337.64 590.92 335.78 592.25 333.92C593.58 332.06 594.92 330.23 596.25 328.4C597.58 326.57 598.92 324.76 600.25 322.93C601.58 321.11 602.92 319.29 604.25 317.45C605.58 315.61 606.92 313.76 608.25 311.88C609.58 310 610.92 308.1 612.25 306.17C613.58 304.23 614.92 302.24 616.25 300.26C617.58 298.28 618.92 296.23 620.25 294.29C621.58 292.34 622.92 290.39 624.25 288.6C625.58 286.8 626.92 285.08 628.25 283.54C629.58 282 630.92 280.63 632.25 279.36C633.58 278.08 634.92 276.97 636.25 275.89C637.58 274.82 638.92 273.86 640.25 272.89C641.58 271.92 642.92 271.01 644.25 270.09C645.58 269.18 646.92 268.28 648.25 267.39C649.58 266.51 650.92 265.64 652.25 264.79C653.58 263.94 654.92 263.11 656.25 262.3C657.58 261.49 658.92 260.69 660.25 259.92C661.58 259.15 662.92 258.4 664.25 257.68C665.58 256.95 666.92 256.24 668.25 255.56C669.58 254.88 670.92 254.23 672.25 253.6C673.58 252.96 674.92 252.35 676.25 251.76C677.58 251.16 678.92 250.59 680.25 250.03C681.58 249.47 682.92 248.93 684.25 248.39C685.58 247.86 686.92 247.34 688.25 246.82C689.58 246.3 690.92 245.8 692.25 245.29C693.58 244.79 694.92 244.29 696.25 243.78C697.58 243.28 698.92 242.78 700.25 242.27C701.58 241.76 702.92 241.25 704.25 240.73C705.58 240.21 706.92 239.69 708.25 239.15C709.58 238.61 710.92 238.06 712.25 237.49C713.58 236.92 714.92 236.34 716.25 235.74C717.58 235.13 718.92 234.51 720.25 233.87C721.58 233.22 722.92 232.55 724.25 231.86C725.58 231.16 726.92 230.43 728.25 229.7C729.58 228.98 730.92 228.22 732.25 227.51C733.58 226.8 734.92 226.08 736.25 225.42C737.58 224.77 738.92 224.13 740.25 223.58C741.58 223.04 742.92 222.53 744.25 222.14C745.58 221.75 746.92 221.44 748.25 221.22C749.58 220.99 750.92 220.87 752.25 220.8C753.58 220.72 754.92 220.74 756.25 220.78C757.58 220.83 758.92 220.94 760.25 221.07C761.58 221.21 762.92 221.39 764.25 221.58C765.58 221.76 766.92 221.98 768.25 222.19C769.58 222.4 770.92 222.62 772.25 222.82C773.58 223.02 774.92 223.22 776.25 223.4C777.58 223.58 778.92 223.75 780.25 223.89C781.58 224.02 782.92 224.15 784.25 224.22C785.58 224.3 786.92 224.36 788.25 224.36C789.58 224.36 790.92 224.33 792.25 224.24C793.58 224.15 794.92 224.02 796.25 223.82C797.58 223.62 798.92 223.35 800.25 223.04C801.58 222.73 802.92 222.33 804.25 221.95C805.58 221.58 806.92 221.15 808.25 220.79C809.58 220.43 810.92 220.08 812.25 219.78C813.58 219.49 814.92 219.24 816.25 219C817.58 218.77 818.92 218.57 820.25 218.37C821.58 218.16 822.92 217.99 824.25 217.79C825.58 217.59 826.92 217.4 828.25 217.18C829.58 216.96 830.92 216.73 832.25 216.46C833.58 216.18 834.92 215.88 836.25 215.53C837.58 215.17 838.92 214.75 840.25 214.32C841.58 213.89 842.92 213.39 844.25 212.94C845.58 212.49 846.92 212.02 848.25 211.63C849.58 211.24 850.92 210.88 852.25 210.61C853.58 210.33 854.92 210.16 856.25 210C857.58 209.84 858.92 209.75 860.25 209.65C861.58 209.55 862.92 209.49 864.25 209.39C865.58 209.29 866.92 209.18 868.25 209.04C869.58 208.91 870.92 208.75 872.25 208.59C873.58 208.42 874.92 208.24 876.25 208.06C877.58 207.89 878.92 207.7 880.25 207.52C881.58 207.35 882.92 207.17 884.25 207.01C885.58 206.84 886.92 206.7 888.25 206.54C889.58 206.38 890.92 206.24 892.25 206.05C893.58 205.86 894.92 205.67 896.25 205.41C897.58 205.15 898.92 204.85 900.25 204.49C901.58 204.12 902.92 203.7 904.25 203.22C905.58 202.75 906.92 202.22 908.25 201.66C909.58 201.1 910.92 200.5 912.25 199.87C913.58 199.25 914.92 198.58 916.25 197.92C917.58 197.25 918.92 196.55 920.25 195.86C921.58 195.17 922.92 194.46 924.25 193.77C925.58 193.08 926.92 192.38 928.25 191.71C929.58 191.05 930.92 190.38 932.25 189.76C933.58 189.13 934.92 188.52 936.25 187.96C937.58 187.4 938.92 186.87 940.25 186.39C941.58 185.92 942.92 185.49 944.25 185.12C945.58 184.76 946.92 184.44 948.25 184.21C949.58 183.98 950.92 183.81 952.25 183.73C953.58 183.65 954.92 183.64 956.25 183.74C957.58 183.83 958.92 184.01 960.25 184.3C961.58 184.59 962.92 184.98 964.25 185.5C965.58 186.01 966.92 186.63 968.25 187.4C969.58 188.16 970.92 189.05 972.25 190.09C973.58 191.13 974.92 192.3 976.25 193.64C977.58 194.98 978.92 196.47 980.25 198.14C981.58 199.81 982.92 201.68 984.25 203.64C985.58 205.61 986.92 207.78 988.25 209.92C989.58 212.06 990.92 214.33 992.25 216.48C993.58 218.64 994.92 220.79 996.25 222.85C997.58 224.9 998.92 226.89 1000.25 228.84C1001.58 230.78 1002.92 232.67 1004.25 234.52C1005.58 236.38 1006.92 238.18 1008.25 239.97C1009.58 241.75 1010.92 243.5 1012.25 245.24C1013.58 246.99 1014.92 248.7 1016.25 250.42C1017.58 252.14 1018.92 253.85 1020.25 255.57C1021.58 257.3 1022.92 259.01 1024.25 260.76C1025.58 262.51 1026.92 264.27 1028.25 266.07C1029.58 267.86 1030.92 269.69 1032.25 271.54C1033.58 273.39 1034.92 275.28 1036.25 277.17C1037.58 279.07 1038.92 280.99 1040.25 282.91C1041.58 284.83 1042.92 286.77 1044.25 288.7C1045.58 290.63 1046.92 292.57 1048.25 294.49C1049.58 296.42 1050.92 298.34 1052.25 300.23C1053.58 302.13 1054.92 304.02 1056.25 305.87C1057.58 307.73 1058.92 309.56 1060.25 311.36C1061.58 313.15 1062.92 314.92 1064.25 316.63C1065.58 318.35 1066.92 320.02 1068.25 321.65C1069.58 323.28 1070.92 324.86 1072.25 326.39C1073.58 327.93 1074.92 329.41 1076.25 330.85C1077.58 332.28 1078.92 333.67 1080.25 335C1081.58 336.33 1082.92 337.61 1084.25 338.83C1085.58 340.06 1086.92 341.23 1088.25 342.34C1089.58 343.45 1090.92 344.5 1092.25 345.51C1093.58 346.51 1094.92 347.45 1096.25 348.35C1097.58 349.25 1098.92 350.1 1100.25 350.89C1101.58 351.68 1102.92 352.45 1104.25 353.07C1105.58 353.69 1106.92 354.25 1108.25 354.61C1109.58 354.97 1110.92 355.17 1112.25 355.23C1113.58 355.29 1114.92 355.17 1116.25 354.96C1117.58 354.75 1118.92 354.39 1120.25 353.97C1121.58 353.55 1122.92 353.01 1124.25 352.43C1125.58 351.86 1126.92 351.19 1128.25 350.51C1129.58 349.83 1130.92 349.11 1132.25 348.37C1133.58 347.63 1134.92 346.93 1136.25 346.07C1137.58 345.21 1138.92 344.35 1140.25 343.21C1141.58 342.07 1142.92 340.77 1144.25 339.24C1145.58 337.71 1146.92 335.72 1148.25 334.03C1149.58 332.33 1150.92 330.59 1152.25 329.08C1153.58 327.56 1154.92 326.28 1156.25 324.92C1157.58 323.57 1158.92 322.33 1160.25 320.93C1161.58 319.54 1162.92 318.1 1164.25 316.54C1165.58 314.98 1166.92 313.33 1168.25 311.57C1169.58 309.81 1170.92 307.94 1172.25 305.99C1173.58 304.04 1174.92 301.96 1176.25 299.89C1177.58 297.82 1178.92 295.65 1180.25 293.55C1181.58 291.44 1182.92 289.3 1184.25 287.25C1185.58 285.21 1186.92 283.17 1188.25 281.29C1189.58 279.4 1190.92 277.6 1192.25 275.93C1193.58 274.27 1194.92 272.76 1196.25 271.3C1197.58 269.84 1198.92 268.51 1200.25 267.19C1201.58 265.87 1202.92 264.62 1204.25 263.38C1205.58 262.15 1206.92 260.95 1208.25 259.77C1209.58 258.6 1210.92 257.45 1212.25 256.31C1213.58 255.18 1214.92 254.06 1216.25 252.95C1217.58 251.83 1218.92 250.73 1220.25 249.62C1221.58 248.51 1222.92 247.39 1224.25 246.29C1225.58 245.19 1226.92 244.08 1228.25 243.02C1229.58 241.96 1230.92 240.92 1232.25 239.96C1233.58 238.99 1234.92 238.07 1236.25 237.25C1237.58 236.43 1238.92 235.67 1240.25 235.04C1241.58 234.4 1242.92 233.88 1244.25 233.44C1245.58 232.99 1246.92 232.66 1248.25 232.39C1249.58 232.11 1250.92 231.93 1252.25 231.79C1253.58 231.65 1254.92 231.59 1256.25 231.55C1257.58 231.51 1258.92 231.53 1260.25 231.57C1261.58 231.6 1262.92 231.68 1264.25 231.75C1265.58 231.82 1266.92 231.91 1268.25 231.99C1269.58 232.07 1270.92 232.13 1272.25 232.22C1273.58 232.31 1274.92 232.38 1276.25 232.51C1277.58 232.64 1278.92 232.78 1280.25 233C1281.58 233.22 1282.92 233.47 1284.25 233.83C1285.58 234.18 1286.92 234.59 1288.25 235.13C1289.58 235.66 1290.92 236.28 1292.25 237.04C1293.58 237.8 1294.92 238.69 1296.25 239.7C1297.58 240.7 1298.92 241.91 1300.25 243.07C1301.58 244.24 1302.92 245.55 1304.25 246.72C1305.58 247.89 1306.92 249.1 1308.25 250.1C1309.58 251.1 1311.27 252.15 1312.25 252.71C1313.23 253.28 1313.79 253.38 1314.1 253.52" stroke="#ff2cff" stroke-width="1" fill="none"/>
<path d="M56 465.55L61.99 466.79L67.99 467.91L73.98 467.89L79.98 469.13L85.97 468.04L91.96 471.24L97.96 473.4L103.95 475.87L109.95 483.26L115.94 489.29L121.93 499.13L127.93 508.23L133.92 518.92L139.92 527.13L145.91 536.34L151.9 538.99L157.9 542.17L163.89 547.54L169.89 548.92L175.88 549.37L181.87 546.9L187.87 546.42L193.86 543.72L199.86 544.94L205.85 543.95L211.84 543.6L217.84 542.89L223.83 539.82L229.83 536.24L235.82 533.45L241.81 530.95L247.81 527.17L253.8 525.03L259.8 520.76L265.79 518.97L271.78 519L277.78 520.12L283.77 520.69L289.77 521.07L295.76 521.27L301.75 520.01L307.75 519.52L313.74 518.71L319.74 516.85L325.73 517.3L331.72 518.85L337.72 520.1L343.71 522.7L349.71 524.5L355.7 526.42L361.69 530.15L367.69 533.28L373.68 538.59L379.68 543.15L385.67 546.62L391.66 549.1L397.66 552.57L403.65 554.26L409.65 555.32L415.64 554.2L421.63 550.45L427.63 545.38L433.62 539.04L439.62 531.26L445.61 524.65L451.6 511.7L457.6 491.78L463.59 471.51L469.59 449.32L475.58 424.97L481.57 403.82L487.57 386.22L493.56 366.01L499.56 347.14L505.55 323.31L511.54 309.7L517.54 300.63L523.53 293.31L529.53 291.1L535.52 291.45L541.51 292.62L547.51 292.68L553.5 295.24L559.5 296.61L565.49 301.65L571.48 299.87L577.48 298.37L583.47 295.23L589.47 291.86L595.46 288.86L601.45 281L607.45 271.42L613.44 260.37L619.44 252.14L625.43 242.97L631.42 234.86L637.42 227.92L643.41 223.06L649.41 217.6L655.4 211.59L661.39 208.05L667.39 205.99L673.38 206.38L679.38 204.76L685.37 204.72L691.36 205.91L697.36 207.58L703.35 209.38L709.35 210.12L715.34 211.67L721.33 213.13L727.33 214.42L733.32 214.07L739.32 215.48L745.31 217.41L751.3 221.93L757.3 229.56L763.29 235.83L769.29 238.93L775.28 245.27L781.27 249.9L787.27 251.95L793.26 251.76L799.26 251.29L805.25 243.57L811.24 234.06L817.24 220.42L823.23 206.52L829.23 201.85L835.22 190.36L841.21 180.77L847.21 170.14L853.2 166.88L859.2 164.23L865.19 168.47L871.18 172.96L877.18 178.57L883.17 184.09L889.17 181.72L895.16 181.97L901.15 186.91L907.15 186.91L913.14 180.87L919.14 177.31L925.13 174.2L931.12 167.35L937.12 164.31L943.11 162.96L949.11 173.06L955.1 182.52L961.09 189.58L967.09 208.6L973.08 227.62L979.08 248.67L985.07 271.36L991.06 301.58L997.06 328.49L1003.05 356.48L1009.05 371.13L1015.04 386.31L1021.03 397.96L1027.03 405.02L1033.02 409.42L1039.02 415.27L1045.01 422.42L1051 425.31L1057 428.39L1062.99 425.28L1068.99 422.82L1074.98 419.62L1080.97 412.68L1086.97 404.99L1092.96 399.96L1098.96 387.9L1104.95 366L1110.94 338.23L1116.94 303.91L1122.93 276.4L1128.93 253.64L1134.92 231.46L1140.91 212.86L1146.91 195.24L1152.9 180.04L1158.9 168.56L1164.89 161.67L1170.88 158.29L1176.88 163.92L1182.87 167.08L1188.87 169.69L1194.86 176.3L1200.85 185.42L1206.85 195.39L1212.84 204.84L1218.84 213.46L1224.83 223.29L1230.82 234.65L1236.82 246.98L1242.81 261.09L1248.81 275.97L1254.8 287.95L1260.79 298.37L1266.79 306.7L1272.78 312.57L1278.78 315.52L1284.77 315.25L1290.76 316.95L1296.76 316.4L1302.75 313.78L1308.75 303.89L1314.74 299.13" stroke="#2222aa" stroke-width="1" fill="none" stroke-linejoin="round"/>
<path d="M56 465.98L61.99 468.74L67.99 471.26L73.98 471.5L79.98 474.26L85.97 468.98L91.96 472.9L97.96 474.98L103.95 479.96L109.95 492.26L115.94 509.6L121.93 525.36L127.93 541.48L133.92 557.88L139.92 562L145.91 563.08L151.9 552.62L157.9 542.86L163.89 537.2L169.89 535.84L175.88 535.66L181.87 541.18L187.87 549.98L193.86 550.24L199.86 554.04L205.85 552.24L211.84 546.02L217.84 535.8L223.83 529.4L229.83 518.44L235.82 514.66L241.81 515.88L247.81 518.54L253.8 520.66L259.8 523.08L265.79 523.28L271.78 522.12L277.78 521.7L283.77 520.72L289.77 519.06L295.76 519.26L301.75 517.9L307.75 517.34L313.74 516.7L319.74 514.64L325.73 515.34L331.72 519.8L337.72 522.86L343.71 528.7L349.71 534.36L355.7 537.5L361.69 540.5L367.69 543.7L373.68 548.48L379.68 551.94L385.67 555.74L391.66 557.7L397.66 561.44L403.65 560.04L409.65 558.7L415.64 552.66L421.63 543.2L427.63 529.32L433.62 518.04L439.62 503.82L445.61 496.64L451.6 480.2L457.6 454.24L463.59 424.98L469.59 394.82L475.58 353.3L481.57 327.44L487.57 318.2L493.56 307.04L499.56 299.46L505.55 293.32L511.54 291.96L517.54 283.06L523.53 279.58L529.53 282.74L535.52 289.58L541.51 293.28L547.51 302.3L553.5 310.9L559.5 310.48L565.49 313.72L571.48 306.46L577.48 294.44L583.47 279.56L589.47 273.24L595.46 264L601.45 255.54L607.45 248.4L613.44 241.18L619.44 231.04L625.43 221.94L631.42 214.18L637.42 207.44L643.41 204.94L649.41 204.16L655.4 201.24L661.39 201.92L667.39 204.54L673.38 207.82L679.38 205.36L685.37 208.2L691.36 209.9L697.36 210.62L703.35 210.94L709.35 214.88L715.34 215.14L721.33 216.36L727.33 218.22L733.32 217.2L739.32 216.08L745.31 219.68L751.3 227.5L757.3 240.9L763.29 254.46L769.29 261.78L775.28 270.86L781.27 272.3L787.27 263L793.26 249.06L799.26 240.8L805.25 216.28L811.24 195.82L817.24 177.84L823.23 163.98L829.23 162.9L835.22 164.44L841.21 165.72L847.21 162.44L853.2 169.78L859.2 165.56L865.19 172.5L871.18 180.2L877.18 194.7L883.17 198.4L889.17 197.88L895.16 191.44L901.15 193.62L907.15 179.12L913.14 163.34L919.14 156.74L925.13 156.96L931.12 141.08L937.12 149.5L943.11 162.58L949.11 189.38L955.1 208.08L961.09 238.08L967.09 267.7L973.08 292.66L979.08 307.96L985.07 334.64L991.06 365.08L997.06 389.28L1003.05 420.3L1009.05 434.3L1015.04 437.98L1021.03 430.84L1027.03 420.76L1033.02 398.54L1039.02 396.24L1045.01 406.86L1051 419.78L1057 436.02L1062.99 452.02L1068.99 449.4L1074.98 432.38L1080.97 405.58L1086.97 373.96L1092.96 347.9L1098.96 326.4L1104.95 299.62L1110.94 270.88L1116.94 233.86L1122.93 204.9L1128.93 180.88L1134.92 163.3L1140.91 154.84L1146.91 156.62L1152.9 155.18L1158.9 156.24L1164.89 160.04L1170.88 161.74L1176.88 171.22L1182.87 178.98L1188.87 183.14L1194.86 192.56L1200.85 209.1L1206.85 219.56L1212.84 230.7L1218.84 243.78L1224.83 254.02L1230.82 260.2L1236.82 274.4L1242.81 291.48L1248.81 308.16L1254.8 321.88L1260.79 336.54L1266.79 339L1272.78 333.66L1278.78 322.88L1284.77 308.62L1290.76 297.36L1296.76 293.8L1302.75 293.9L1308.75 284.9L1314.74 289.64" stroke="#222" stroke-width="1" fill="none" stroke-linejoin="round"/>
<path d="M52.5 294.2H1400" stroke="#4ea6f7" stroke-width="1.2" stroke-dasharray="2.5 2.5" fill="none"/>
<rect x="1342.5" y="294.5" width="60" height="13.5" fill="#fff" stroke="#ff8a1c" stroke-width="1"/>
<text x="1345.5" y="305.3" font-size="10.4" fill="#ff8a1c" textLength="37.5" lengthAdjust="spacingAndGlyphs">1969.48</text>
<path d="M1393.6 291.2l2.8-3.4 2.8 3.4zM1393.6 294.4l2.8-3.4 2.8 3.4z" fill="#ff8a1c"/>
<rect x="1342.5" y="73.5" width="60" height="13.5" fill="#fff" stroke="#e6ecf2" stroke-width="1"/>
<text x="1345.2" y="84.2" font-size="10.2" fill="#ff8a1c" textLength="37.2" lengthAdjust="spacingAndGlyphs">1975.07</text>
<path d="M90 450.6h6M92 449.40000000000003v2" stroke="#111" stroke-width="1" fill="none"/>
<text x="96.4" y="447.6" font-size="10.4" fill="#d9453a" font-weight="bold" textLength="37.6" lengthAdjust="spacingAndGlyphs">1965.51</text>
<path d="M126 592.6h6M128 591.4v2" stroke="#111" stroke-width="1" fill="none"/>
<text x="132.6" y="603.2" font-size="10.4" fill="#5fa55a" font-weight="bold" textLength="37.6" lengthAdjust="spacingAndGlyphs">1961.92</text>
<path d="M1121 78.6h6M1123 77.39999999999999v2" stroke="#111" stroke-width="1" fill="none"/>
<text x="1127.3" y="76.2" font-size="10.4" fill="#d9453a" font-weight="bold" textLength="37.6" lengthAdjust="spacingAndGlyphs">1974.92</text>
<path d="M1001 518.4h6M1003 517.1999999999999v2" stroke="#111" stroke-width="1" fill="none"/>
<text x="1007.6" y="528.3" font-size="10.4" fill="#5fa55a" font-weight="bold" textLength="37.6" lengthAdjust="spacingAndGlyphs">1963.79</text>
<path d="M193.86 714.6v-1.4M205.85 714.6v-3.4M211.84 714.6v-6.4M217.84 714.6v-10M223.83 714.6v-12M229.83 714.6v-12.4M235.82 714.6v-12.4M241.81 714.6v-10.4M247.81 714.6v-8.8M253.8 714.6v-8M259.8 714.6v-6M265.79 714.6v-6.8M271.78 714.6v-6M277.78 714.6v-5.4M283.77 714.6v-5.2M289.77 714.6v-4.4M295.76 714.6v-4.4M301.75 714.6v-4.4M307.75 714.6v-3.6M313.74 714.6v-3.6M319.74 714.6v-3.8M325.73 714.6v-2.4M331.72 714.6v-0.8M415.64 714.6v-3.2M421.63 714.6v-7.2M427.63 714.6v-10.6M433.62 714.6v-12.6M439.62 714.6v-16M445.61 714.6v-16M451.6 714.6v-21.2M457.6 714.6v-30.6M463.59 714.6v-35.6M469.59 714.6v-40.6M475.58 714.6v-45.6M481.57 714.6v-45.2M487.57 714.6v-38.2M493.56 714.6v-34.6M499.56 714.6v-31.6M505.55 714.6v-30.6M511.54 714.6v-23.6M517.54 714.6v-18.6M523.53 714.6v-12.6M529.53 714.6v-5.6M535.52 714.6v-2.6M613.44 714.6v-1.2M619.44 714.6v-1M625.43 714.6v-1M631.42 714.6v-3.2M637.42 714.6v-3.2M805.25 714.6v-10M811.24 714.6v-15.2M817.24 714.6v-17.2M823.23 714.6v-19.2M829.23 714.6v-12M835.22 714.6v-12M841.21 714.6v-10.6M847.21 714.6v-12.6M853.2 714.6v-7.6M859.2 714.6v-3M913.14 714.6v-5.6M919.14 714.6v-5.6M925.13 714.6v-4M931.12 714.6v-5.6M937.12 714.6v-1.2M1068.99 714.6v-6M1074.98 714.6v-15.2M1080.97 714.6v-25.6M1086.97 714.6v-33.2M1092.96 714.6v-38M1098.96 714.6v-40.6M1104.95 714.6v-46.6M1110.94 714.6v-55.6M1116.94 714.6v-62.6M1122.93 714.6v-62.6M1128.93 714.6v-57.2M1134.92 714.6v-52.6M1140.91 714.6v-48.6M1146.91 714.6v-43.6M1152.9 714.6v-35.7M1158.9 714.6v-25.4M1164.89 714.6v-18.8M1170.88 714.6v-15.2M1176.88 714.6v-7.5M1308.75 714.6v-6.8M1314.74 714.6v-5.7" stroke="#e8847e" stroke-width="1.2" fill="none"/>
<path d="M56 714.6v4.6M61.99 714.6v4.6M67.99 714.6v4.2M73.98 714.6v3.2M79.98 714.6v3.6M85.97 714.6v1.2M91.96 714.6v3.6M97.96 714.6v4M103.95 714.6v5.2M109.95 714.6v10M115.94 714.6v14M121.93 714.6v18.6M127.93 714.6v19.6M133.92 714.6v18.6M139.92 714.6v17.2M145.91 714.6v11.6M151.9 714.6v7.2M157.9 714.6v2M163.89 714.6v0.8M169.89 714.6v0.4M175.88 714.6v0.4M181.87 714.6v0.4M187.87 714.6v0.6M199.86 714.6v0.5M337.72 714.6v2M343.71 714.6v3.4M349.71 714.6v2.8M355.7 714.6v3.4M361.69 714.6v4M367.69 714.6v4M373.68 714.6v6.8M379.68 714.6v6M385.67 714.6v5.4M391.66 714.6v4.8M397.66 714.6v5.4M403.65 714.6v4M409.65 714.6v2M541.51 714.6v4.8M547.51 714.6v10M553.5 714.6v14.4M559.5 714.6v14.4M565.49 714.6v14.4M571.48 714.6v12M577.48 714.6v8.8M583.47 714.6v6.4M589.47 714.6v6.8M595.46 714.6v6M601.45 714.6v2.4M607.45 714.6v0.8M643.41 714.6v0.4M649.41 714.6v2.8M655.4 714.6v3.4M661.39 714.6v4.4M667.39 714.6v6.4M673.38 714.6v9.4M679.38 714.6v9.4M685.37 714.6v10M691.36 714.6v10M697.36 714.6v10.8M703.35 714.6v12.8M709.35 714.6v13.4M715.34 714.6v12.8M721.33 714.6v12M727.33 714.6v12M733.32 714.6v12M739.32 714.6v11.4M745.31 714.6v12M751.3 714.6v14.4M757.3 714.6v19.4M763.29 714.6v21.4M769.29 714.6v18M775.28 714.6v18M781.27 714.6v15.4M787.27 714.6v10.4M793.26 714.6v4.4M799.26 714.6v0.4M865.19 714.6v0.8M871.18 714.6v4.8M877.18 714.6v8M883.17 714.6v8.8M889.17 714.6v7.4M895.16 714.6v3.4M901.15 714.6v7.4M907.15 714.6v0.4M943.11 714.6v3.4M949.11 714.6v16.4M955.1 714.6v21.4M961.09 714.6v26M967.09 714.6v32.8M973.08 714.6v34M979.08 714.6v37.4M985.07 714.6v40.8M991.06 714.6v45.4M997.06 714.6v47.4M1003.05 714.6v47.4M1009.05 714.6v40.4M1015.04 714.6v31.4M1021.03 714.6v21.4M1027.03 714.6v13.4M1033.02 714.6v2M1039.02 714.6v0.8M1045.01 714.6v4.4M1051 714.6v6.4M1057 714.6v7.4M1062.99 714.6v2M1182.87 714.6v0.6M1188.87 714.6v6.2M1194.86 714.6v11M1200.85 714.6v16.4M1206.85 714.6v20.5M1212.84 714.6v23.2M1218.84 714.6v25.9M1224.83 714.6v27.7M1230.82 714.6v26.8M1236.82 714.6v30.4M1242.81 714.6v33M1248.81 714.6v35.2M1254.8 714.6v33.6M1260.79 714.6v31.2M1266.79 714.6v25.9M1272.78 714.6v19.3M1278.78 714.6v12.9M1284.77 714.6v3.9M1290.76 714.6v0.9M1296.76 714.6v0.9M1302.75 714.6v0.6" stroke="#8cc48a" stroke-width="1.2" fill="none"/>
<clipPath id="mc"><rect x="52.5" y="633" width="1290" height="137.6"/></clipPath>
<g clip-path="url(#mc)"><path d="M56 710C58.33 710.17 65.33 710.6 70 711C74.67 711.4 79 711.9 84 712.4C89 712.9 95.67 713.47 100 714C104.33 714.53 106.67 714.6 110 715.6C113.33 716.6 116.67 718.6 120 720C123.33 721.4 126.67 722.83 130 724C133.33 725.17 136.67 726.17 140 727C143.33 727.83 146.33 728.57 150 729C153.67 729.43 155.33 729.43 162 729.6C168.67 729.77 182 730.03 190 730C198 729.97 205 729.83 210 729.4C215 728.97 215.67 728.37 220 727.4C224.33 726.43 231 724.83 236 723.6C241 722.37 244.33 721.1 250 720C255.67 718.9 263.33 717.93 270 717C276.67 716.07 283.33 714.97 290 714.4C296.67 713.83 303.33 713.77 310 713.6C316.67 713.43 323.33 713.23 330 713.4C336.67 713.57 343.33 714 350 714.6C356.67 715.2 363.33 716.2 370 717C376.67 717.8 384.33 718.67 390 719.4C395.67 720.13 399.67 721.13 404 721.4C408.33 721.67 412.33 721.4 416 721C419.67 720.6 423 719.6 426 719C429 718.4 430.67 718.4 434 717.4C437.33 716.4 442 714.57 446 713C450 711.43 454 710.27 458 708C462 705.73 466 702.73 470 699.4C474 696.07 478 691.4 482 688C486 684.6 490 681.83 494 679C498 676.17 502 673.27 506 671C510 668.73 514 666.73 518 665.4C522 664.07 527 663.4 530 663C533 662.6 534 662.83 536 663C538 663.17 539 663.27 542 664C545 664.73 550 666.3 554 667.4C558 668.5 562 669.6 566 670.6C570 671.6 574 672.67 578 673.4C582 674.13 586 674.47 590 675C594 675.53 598.67 676.27 602 676.6C605.33 676.93 605.33 677.2 610 677C614.67 676.8 625 675.67 630 675.4C635 675.13 636.67 675.2 640 675.4C643.33 675.6 646.67 676.27 650 676.6C653.33 676.93 656.67 676.93 660 677.4C663.33 677.87 666.67 678.73 670 679.4C673.33 680.07 676.67 680.73 680 681.4C683.33 682.07 686.67 682.7 690 683.4C693.33 684.1 696.67 684.73 700 685.6C703.33 686.47 706 687.43 710 688.6C714 689.77 719.33 691.47 724 692.6C728.67 693.73 733.67 694.4 738 695.4C742.33 696.4 746.33 697.4 750 698.6C753.67 699.8 756.67 701.2 760 702.6C763.33 704 766.67 705.67 770 707C773.33 708.33 776.67 709.77 780 710.6C783.33 711.43 787 711.67 790 712C793 712.33 795.33 712.7 798 712.6C800.67 712.5 803.67 711.83 806 711.4C808.33 710.97 810 710.67 812 710C814 709.33 816 708.17 818 707.4C820 706.63 822 705.97 824 705.4C826 704.83 828 704.47 830 704C832 703.53 834 703.1 836 702.6C838 702.1 840 701.53 842 701C844 700.47 846 699.8 848 699.4C850 699 852 698.73 854 698.6C856 698.47 858 698.53 860 698.6C862 698.67 863.67 698.77 866 699C868.33 699.23 871.33 699.57 874 700C876.67 700.43 879.33 701.1 882 701.6C884.67 702.1 887 702.53 890 703C893 703.47 896.67 704.4 900 704.4C903.33 704.4 906.67 703.4 910 703C913.33 702.6 916.67 702.27 920 702C923.33 701.73 926.67 701.4 930 701.4C933.33 701.4 936.67 701.47 940 702C943.33 702.53 946.67 703.27 950 704.6C953.33 705.93 956.67 707.87 960 710C963.33 712.13 966.67 714.9 970 717.4C973.33 719.9 976.67 722.23 980 725C983.33 727.77 987 731.17 990 734C993 736.83 995.33 739.5 998 742C1000.67 744.5 1003.33 747 1006 749C1008.67 751 1011.33 752.6 1014 754C1016.67 755.4 1019.33 756.5 1022 757.4C1024.67 758.3 1027 758.93 1030 759.4C1033 759.87 1036.67 759.87 1040 760.2C1043.33 760.53 1046.67 761 1050 761.4C1053.33 761.8 1057.33 762.5 1060 762.6C1062.67 762.7 1063.67 762.43 1066 762C1068.33 761.57 1071.33 761 1074 760C1076.67 759 1079.33 757.57 1082 756C1084.67 754.43 1087.33 752.5 1090 750.6C1092.67 748.7 1095.33 746.8 1098 744.6C1100.67 742.4 1103.33 740 1106 737.4C1108.67 734.8 1111.33 732.07 1114 729C1116.67 725.93 1119.33 722.33 1122 719C1124.67 715.67 1127.33 712.17 1130 709C1132.67 705.83 1135.33 702.83 1138 700C1140.67 697.17 1144 694.02 1146 692C1148 689.98 1147.85 689.44 1150 687.86C1152.15 686.27 1155.95 683.99 1158.93 682.5C1161.9 681.01 1164.88 679.82 1167.86 678.93C1170.83 678.04 1173.81 677.35 1176.79 677.14C1179.76 676.93 1182.74 677.23 1185.71 677.68C1188.69 678.12 1191.67 679.02 1194.64 679.82C1197.62 680.62 1200.6 681.16 1203.57 682.5C1206.55 683.84 1209.52 686.13 1212.5 687.86C1215.48 689.58 1218.45 691.22 1221.43 692.86C1224.4 694.49 1227.38 696.13 1230.36 697.68C1233.33 699.23 1236.31 700.21 1239.29 702.14C1242.26 704.08 1245.24 706.9 1248.21 709.29C1251.19 711.67 1254.17 714.35 1257.14 716.43C1260.12 718.51 1263.1 720.36 1266.07 721.79C1269.05 723.21 1272.02 724.26 1275 725C1277.98 725.74 1280.95 726.01 1283.93 726.25C1286.9 726.49 1289.88 726.43 1292.86 726.43C1295.83 726.43 1298.81 726.43 1301.79 726.25C1304.76 726.07 1308.63 725.51 1310.71 725.36C1312.8 725.21 1313.69 725.36 1314.29 725.36" stroke="#2525b5" stroke-width="1" fill="none"/>
<path d="M56 712.4C58.33 712.5 66 712.73 70 713C74 713.27 77.33 714 80 714C82.67 714 83.67 712.73 86 713C88.33 713.27 91 714.77 94 715.6C97 716.43 101.33 717 104 718C106.67 719 108 720.1 110 721.6C112 723.1 113.33 725.27 116 727C118.67 728.73 122.67 730.67 126 732C129.33 733.33 132.67 734.5 136 735C139.33 735.5 143 735.67 146 735C149 734.33 151.83 731.93 154 731C156.17 730.07 156.33 729.57 159 729.4C161.67 729.23 164.83 729.97 170 730C175.17 730.03 184.67 729.7 190 729.6C195.33 729.5 198.67 730 202 729.4C205.33 728.8 207 727.3 210 726C213 724.7 215.67 723.1 220 721.6C224.33 720.1 231 717.87 236 717C241 716.13 244.33 716.83 250 716.4C255.67 715.97 263.33 714.87 270 714.4C276.67 713.93 283.33 713.93 290 713.6C296.67 713.27 305 712.73 310 712.4C315 712.07 316.67 711.43 320 711.6C323.33 711.77 326.33 712.67 330 713.4C333.67 714.13 337.67 715.33 342 716C346.33 716.67 351.33 716.63 356 717.4C360.67 718.17 365.33 719.83 370 720.6C374.67 721.37 379.33 721.6 384 722C388.67 722.4 393.67 723 398 723C402.33 723 407 722.5 410 722C413 721.5 414 720.9 416 720C418 719.1 420 717.77 422 716.6C424 715.43 426 713.77 428 713C430 712.23 432 712.73 434 712C436 711.27 438 709.43 440 708.6C442 707.77 444 708 446 707C448 706 450 704.6 452 702.6C454 700.6 456 697.93 458 695C460 692.07 462 688 464 685C466 682 468 679.67 470 677C472 674.33 474 671 476 669C478 667 480 665.83 482 665C484 664.17 486 664.67 488 664C490 663.33 492 662 494 661C496 660 498 659 500 658C502 657 504 655.33 506 655C508 654.67 510 655.73 512 656C514 656.27 516 656.27 518 656.6C520 656.93 522 657.27 524 658C526 658.73 528 660.17 530 661C532 661.83 534 662.17 536 663C538 663.83 540 664.67 542 666C544 667.33 546 669.5 548 671C550 672.5 552 674.07 554 675C556 675.93 558 676.1 560 676.6C562 677.1 563 677.77 566 678C569 678.23 575 678.1 578 678C581 677.9 582 677.3 584 677.4C586 677.5 588 678.27 590 678.6C592 678.93 594 679.4 596 679.4C598 679.4 599.67 679 602 678.6C604.33 678.2 606.67 677.33 610 677C613.33 676.67 618.67 676.93 622 676.6C625.33 676.27 627 675.27 630 675C633 674.73 637 674.5 640 675C643 675.5 645 677.4 648 678C651 678.6 655 678.17 658 678.6C661 679.03 663.33 679.7 666 680.6C668.67 681.5 670.67 682.93 674 684C677.33 685.07 682.33 686 686 687C689.67 688 693 689 696 690C699 691 701 692.1 704 693C707 693.9 710.33 694.47 714 695.4C717.67 696.33 722 697.73 726 698.6C730 699.47 734.67 699.87 738 700.6C741.33 701.33 743.33 701.77 746 703C748.67 704.23 751.33 706.17 754 708C756.67 709.83 759.33 712.57 762 714C764.67 715.43 767 715.83 770 716.6C773 717.37 777 718.47 780 718.6C783 718.73 785.67 718 788 717.4C790.33 716.8 792 715.8 794 715C796 714.2 798 713.93 800 712.6C802 711.27 804 708.87 806 707C808 705.13 810 702.8 812 701.4C814 700 816 699.5 818 698.6C820 697.7 822 696 824 696C826 696 828 698.37 830 698.6C832 698.83 834 697.83 836 697.4C838 696.97 840 696.67 842 696C844 695.33 846 693.5 848 693.4C850 693.3 852 694.73 854 695.4C856 696.07 858 696.73 860 697.4C862 698.07 864 698.73 866 699.4C868 700.07 870 700.63 872 701.4C874 702.17 876 703.3 878 704C880 704.7 882 705.27 884 705.6C886 705.93 888 706.1 890 706C892 705.9 894.17 704.77 896 705C897.83 705.23 899 707.57 901 707.4C903 707.23 905.83 705.13 908 704C910.17 702.87 912 701.37 914 700.6C916 699.83 917.33 699.6 920 699.4C922.67 699.2 927 699.07 930 699.4C933 699.73 935.67 700.47 938 701.4C940.33 702.33 942 703.23 944 705C946 706.77 947.67 709.67 950 712C952.33 714.33 955.33 716.17 958 719C960.67 721.83 963.33 726.17 966 729C968.67 731.83 971.33 733.33 974 736C976.67 738.67 979.33 741.83 982 745C984.67 748.17 987.33 751.83 990 755C992.67 758.17 995.67 761.43 998 764C1000.33 766.57 1001.33 769.33 1004 770.4C1006.67 771.47 1011 770.8 1014 770.4C1017 770 1019.33 769.07 1022 768C1024.67 766.93 1027.67 765.33 1030 764C1032.33 762.67 1033.67 760.43 1036 760C1038.33 759.57 1041.67 760.83 1044 761.4C1046.33 761.97 1047.83 762.7 1050 763.4C1052.17 764.1 1054.67 765.67 1057 765.6C1059.33 765.53 1061.83 764.43 1064 763C1066.17 761.57 1067.67 759.5 1070 757C1072.33 754.5 1075.33 751.17 1078 748C1080.67 744.83 1083.33 741.33 1086 738C1088.67 734.67 1091.33 731.33 1094 728C1096.67 724.67 1099.67 721.17 1102 718C1104.33 714.83 1106 712.5 1108 709C1110 705.5 1112 700.67 1114 697C1116 693.33 1117.67 689.73 1120 687C1122.33 684.27 1125.33 682.6 1128 680.6C1130.67 678.6 1133.67 676.67 1136 675C1138.33 673.33 1139.67 671.79 1142 670.6C1144.33 669.41 1147.18 667.96 1150 667.86C1152.82 667.76 1155.65 669.35 1158.93 670C1162.2 670.65 1166.67 670.95 1169.64 671.79C1172.62 672.62 1174.11 673.66 1176.79 675C1179.46 676.34 1182.74 677.92 1185.71 679.82C1188.69 681.73 1191.67 684.14 1194.64 686.43C1197.62 688.72 1200.6 691.4 1203.57 693.57C1206.55 695.74 1209.52 697.29 1212.5 699.46C1215.48 701.64 1218.45 704.67 1221.43 706.61C1224.4 708.54 1227.38 708.99 1230.36 711.07C1233.33 713.15 1236.31 716.43 1239.29 719.11C1242.26 721.79 1245.24 724.91 1248.21 727.14C1251.19 729.38 1254.17 731.16 1257.14 732.5C1260.12 733.84 1263.1 735.03 1266.07 735.18C1269.05 735.33 1272.02 734.29 1275 733.39C1277.98 732.5 1281.25 731.01 1283.93 729.82C1286.61 728.63 1288.69 726.7 1291.07 726.25C1293.45 725.8 1295.83 727.29 1298.21 727.14C1300.6 726.99 1303.57 726.1 1305.36 725.36C1307.14 724.61 1307.44 723.12 1308.93 722.68C1310.42 722.23 1313.39 722.68 1314.29 722.68" stroke="#222" stroke-width="1" fill="none"/></g>
<text x="54.5" y="645" font-size="11" fill="#222" textLength="72.5" lengthAdjust="spacingAndGlyphs">MACD(26,12,9)</text>
<text x="131.8" y="645" font-size="11" fill="#222" textLength="47.7" lengthAdjust="spacingAndGlyphs">DIFF:-0.26</text>
<text x="187.5" y="645" font-size="11" fill="#2a2ab8" textLength="46.8" lengthAdjust="spacingAndGlyphs">DEA:-0.33</text>
<text x="242" y="645" font-size="11" fill="#ff2cff" textLength="54.3" lengthAdjust="spacingAndGlyphs">MACD:0.14</text>
<g stroke="#e0403a" stroke-width="1" fill="none"><circle cx="1" cy="640" r="2.4"/><path d="M4.5 637l1.8-1.5M4.8 640h2M4.5 643l1.8 1.5M1 636v-2M1 644v2"/></g><circle cx="1" cy="640" r="1" fill="#222"/>
<text x="54" y="11.2" font-size="10.15" fill="#222" font-family="&quot;Liberation Sans&quot;, &quot;Noto Sans CJK SC&quot;, sans-serif" textLength="40.6" lengthAdjust="spacingAndGlyphs">现货黄金</text>
<text x="95.5" y="11.2" font-size="10.15" fill="#ff7f0e" font-family="&quot;Liberation Sans&quot;, &quot;Noto Sans CJK SC&quot;, sans-serif">【</text>
<text x="105.8" y="11.3" font-size="11.5" fill="#ff7f0e" textLength="5.6" lengthAdjust="spacingAndGlyphs">5</text>
<text x="111.8" y="11.2" font-size="10.1" fill="#ff7f0e" font-family="&quot;Liberation Sans&quot;, &quot;Noto Sans CJK SC&quot;, sans-serif">分</text>
<text x="121.5" y="11.2" font-size="10.15" fill="#ff7f0e" font-family="&quot;Liberation Sans&quot;, &quot;Noto Sans CJK SC&quot;, sans-serif">】</text>
<rect x="137.8" y="-0.5" width="10.6" height="11.2" fill="#fff" stroke="#3a3ab0" stroke-width="1.2"/>
<path d="M139 7.5l2.2-3.2 2.2 2.4 2.2-3.2 2 2.2" stroke="#e0303a" stroke-width="1.2" fill="none"/>
<path d="M139 9.2h8.6" stroke="#3a3ab0" stroke-width="1" fill="none"/>
<text x="151.3" y="11.3" font-size="11" fill="#222" textLength="113.7" lengthAdjust="spacingAndGlyphs">MA(5,10,30,60,100,200)</text>
<text x="269.3" y="11.3" font-size="11" fill="#222" textLength="63.2" lengthAdjust="spacingAndGlyphs">MA5:1969.57</text>
<text x="340.8" y="11.3" font-size="11" fill="#2a2ab8" textLength="68.7" lengthAdjust="spacingAndGlyphs">MA10:1969.35</text>
<text x="417.5" y="11.3" font-size="11" fill="#ff2cff" textLength="69.3" lengthAdjust="spacingAndGlyphs">MA30:1970.49</text>
<text x="495" y="11.3" font-size="11" fill="#ff8a1c" textLength="68.8" lengthAdjust="spacingAndGlyphs">MA60:1969.34</text>
<text x="572" y="11.3" font-size="11" fill="#8a8a8a" textLength="75" lengthAdjust="spacingAndGlyphs">MA100:1970.35</text>
<text x="655" y="11.3" font-size="11" fill="#e0524c" textLength="75" lengthAdjust="spacingAndGlyphs">MA200:1968.44</text>
<rect x="1221.5" y="-2" width="63" height="14" fill="#fff" stroke="#4a5068" stroke-width="1"/>
<text x="1227" y="10.4" font-size="10.2" fill="#3a3a4a" font-family="&quot;Liberation Sans&quot;, &quot;Noto Sans CJK SC&quot;, sans-serif" textLength="40.9" lengthAdjust="spacingAndGlyphs">全部主题</text>
<path d="M1269.8 3.2h7.4l-3.7 6.6z" fill="#3a3f55"/>
<rect x="1288.3" y="0.4" width="11.3" height="11.2" fill="#fff" stroke="#2079cf" stroke-width="0.9"/>
<rect x="1290.15" y="5.0" width="1.7" height="1.7" fill="#1f74c8"/>
<rect x="1296.15" y="5.0" width="1.7" height="1.7" fill="#1f74c8"/>
<rect x="1293.0500000000002" y="2.15" width="1.7" height="1.7" fill="#1f74c8"/>
<rect x="1293.0500000000002" y="8.05" width="1.7" height="1.7" fill="#1f74c8"/>
<rect x="1293.0500000000002" y="5.0" width="1.7" height="1.7" fill="#5a9cdc"/>
<path d="M1292 5.85h1M1295 5.85h1" stroke="#1f74c8" stroke-width="0.8" fill="none"/>
<rect x="1301.9" y="0.4" width="11.3" height="11.2" fill="#fff" stroke="#2079cf" stroke-width="0.9"/>
<rect x="1303" y="0.7" width="9.1" height="9.8" fill="none" stroke="#a8cdee" stroke-width="1"/>
<path d="M1304.5 2.2v7.3M1304.5 9.1h6.2" stroke="#1f74c8" stroke-width="1.1" fill="none"/><path d="M1307 2.6l1.7 1.5 1.9-1.5v3.4h-0.9v-1.6l-1 .9-.9-.9v1.6h-.8z" fill="#1f74c8"/><rect x="1309.8" y="8.2" width="1.6" height="1.6" fill="#1f74c8"/><rect x="1303.8" y="8.4" width="1.4" height="1.4" fill="#1f74c8"/>
<rect x="1315.4" y="0.4" width="11.3" height="11.2" fill="#fff" stroke="#2079cf" stroke-width="0.9"/>
<path d="M1318.3 2.2v7.3M1318.3 9.1h6.4" stroke="#1f74c8" stroke-width="1.1" fill="none"/><path d="M1320.3 2.9l4.6 2.6-4.6 2.4z" fill="#1f74c8"/><rect x="1323.6" y="8.2" width="1.6" height="1.6" fill="#1f74c8"/><rect x="1317.6" y="8.4" width="1.4" height="1.4" fill="#1f74c8"/>
<rect x="1329.2" y="0.4" width="11.3" height="11.2" fill="#fff" stroke="#2079cf" stroke-width="0.9"/>
<path d="M1331.3 2v7.6M1333.9 2v7.6M1331.3 2.4h2.6M1331.3 9.1h2.6" stroke="#1f74c8" stroke-width="1" fill="none"/><path d="M1334 5h2.6v-1.6l2.5 2.45-2.5 2.45v-1.6h-2.6z" fill="#1f74c8"/>
<path d="M0 771H52" stroke="#d9e0e7" stroke-width="1.6" fill="none"/><path d="M51.8 771V780" stroke="#c5ccd4" stroke-width="1" fill="none"/>
<text x="7" y="784" font-size="12" fill="#ff7f0e" font-weight="bold" textLength="6.2" lengthAdjust="spacingAndGlyphs">5</text>
<text x="13.2" y="783.6" font-size="10.15" fill="#ff7f0e" font-weight="bold" font-family="&quot;Liberation Sans&quot;, &quot;Noto Sans CJK SC&quot;, sans-serif">分</text>
<path d="M29.2 781l2.3-5 2.3 5z" fill="#ff7f0e"/>
<rect x="661.5" y="771.5" width="140" height="12" fill="#fff" stroke="#e6ebf0" stroke-width="1"/>
<text x="663" y="783.3" font-size="11.5" fill="#ff8a1c" textLength="56.3" lengthAdjust="spacingAndGlyphs">2023/07/26</text>
<text x="723.8" y="783.3" font-size="11.5" fill="#ff8a1c" textLength="24.8" lengthAdjust="spacingAndGlyphs">17:00</text>
<text x="759.8" y="783.3" font-size="11.5" fill="#ff8a1c" textLength="25" lengthAdjust="spacingAndGlyphs">17:05</text>
<path d="M750.8 779.6q1.6-1.6 3.2 0t3.2 0" stroke="#ff8a1c" stroke-width="1.1" fill="none"/>
<text x="789.5" y="781.8" font-size="10" fill="#ff8a1c" font-family="&quot;Liberation Sans&quot;, &quot;Noto Sans CJK SC&quot;, sans-serif">三</text>
<text x="1160.8" y="783" font-size="10.6" fill="#222" font-weight="bold" textLength="25" lengthAdjust="spacingAndGlyphs">07/27</text>
</svg>
</body></html>
